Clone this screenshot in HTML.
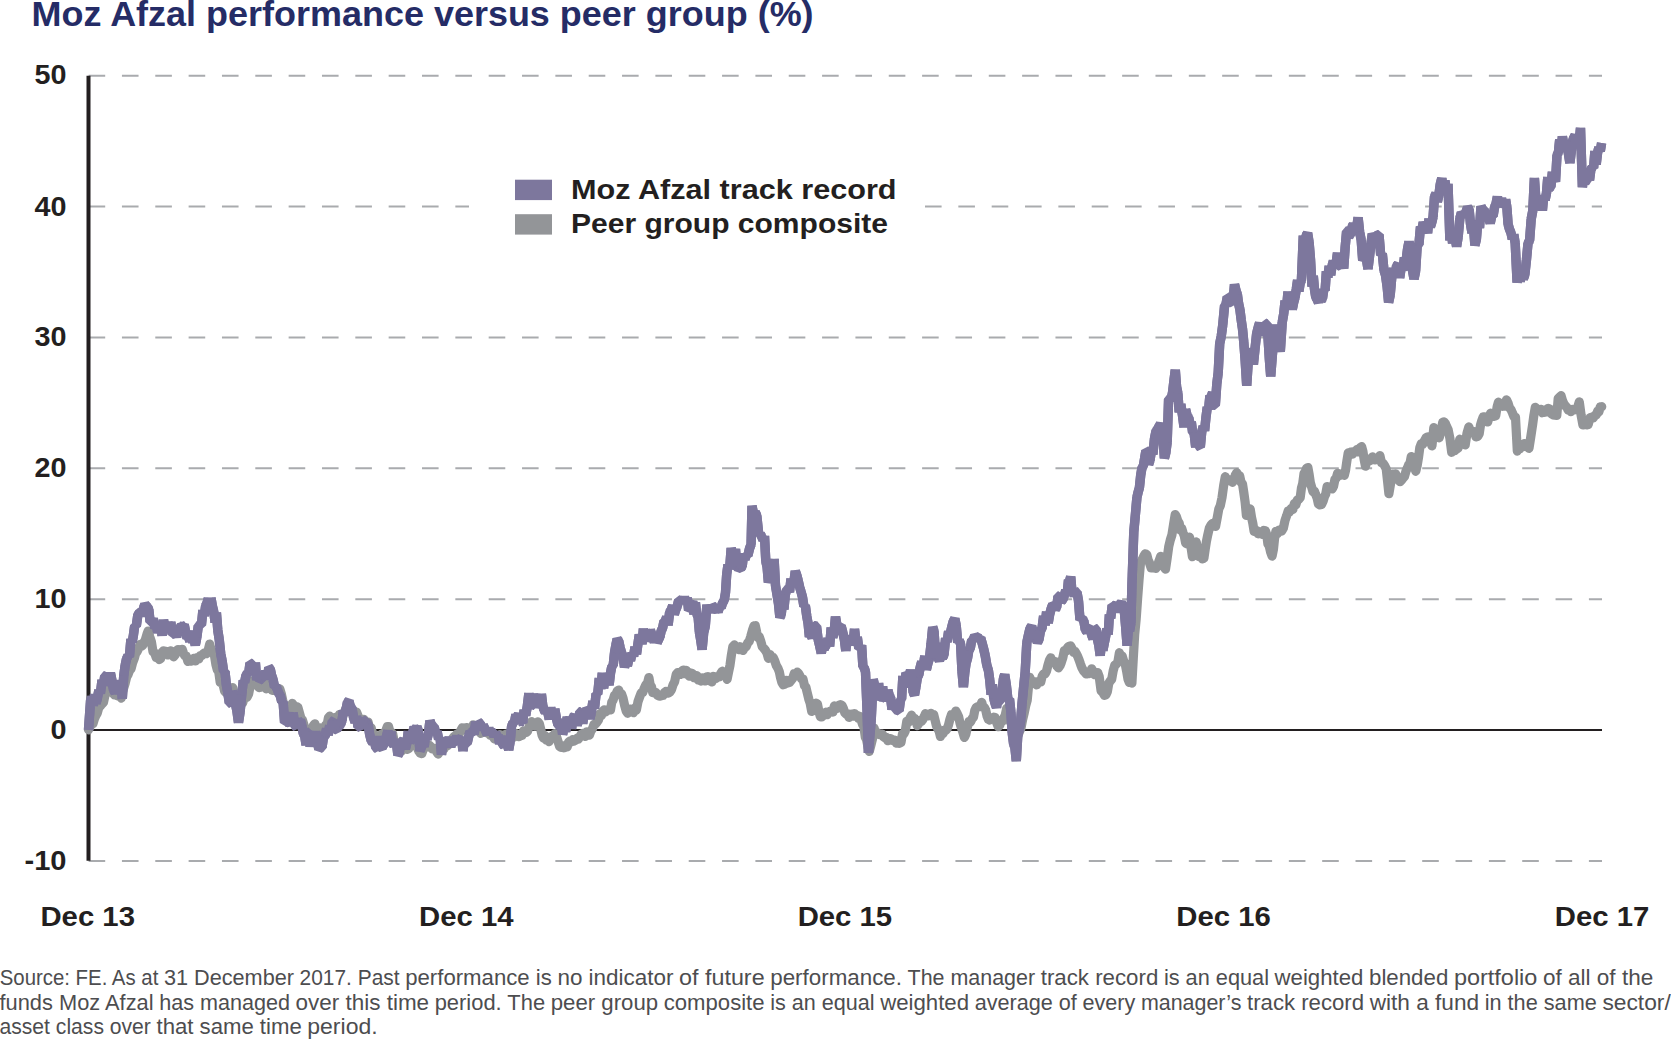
<!DOCTYPE html>
<html lang="en"><head><meta charset="utf-8"><title>Moz Afzal performance versus peer group (%)</title>
<style>html,body{margin:0;padding:0;background:#fff}svg{display:block}text{font-family:"Liberation Sans",sans-serif}.b{font-weight:bold;fill:#231f20;font-size:28px}.c{font-size:28.5px}.t{font-weight:bold;fill:#252c66;font-size:34.5px}.f{fill:#4d4d4f;font-size:21.5px}</style></head><body>
<svg width="1671" height="1041" viewBox="0 0 1671 1041">
<rect width="1671" height="1041" fill="#fff"/>
<text class="t" x="31.6" y="26" textLength="782" lengthAdjust="spacingAndGlyphs">Moz Afzal performance versus peer group (%)</text>
<line x1="88.6" y1="75.8" x2="1602.0" y2="75.8" stroke="#a9abae" stroke-width="2" stroke-dasharray="16.6 16.74"/>
<line x1="88.6" y1="206.6" x2="469.0" y2="206.6" stroke="#a9abae" stroke-width="2" stroke-dasharray="16.6 16.74"/>
<line x1="925.0" y1="206.6" x2="1602.0" y2="206.6" stroke="#a9abae" stroke-width="2" stroke-dasharray="16.6 16.74"/>
<line x1="88.6" y1="337.4" x2="1602.0" y2="337.4" stroke="#a9abae" stroke-width="2" stroke-dasharray="16.6 16.74"/>
<line x1="88.6" y1="468.3" x2="1602.0" y2="468.3" stroke="#a9abae" stroke-width="2" stroke-dasharray="16.6 16.74"/>
<line x1="88.6" y1="599.2" x2="1602.0" y2="599.2" stroke="#a9abae" stroke-width="2" stroke-dasharray="16.6 16.74"/>
<line x1="88.6" y1="861.0" x2="1602.0" y2="861.0" stroke="#a9abae" stroke-width="2" stroke-dasharray="16.6 16.74"/>
<line x1="88.5" y1="730.0" x2="1602.0" y2="730.0" stroke="#231f20" stroke-width="2"/>
<line x1="88.5" y1="75.8" x2="88.5" y2="860.7" stroke="#231f20" stroke-width="4"/>
<path d="M88.5 729.8 L90.0 726.6 L91.4 724.3 L92.9 723.9 L94.4 718.9 L95.8 715.6 L97.3 713.1 L98.8 707.6 L100.4 705.9 L101.9 704.0 L103.5 702.3 L105.0 695.3 L106.3 692.8 L107.5 688.9 L108.8 690.5 L110.2 691.5 L111.7 688.0 L113.1 693.2 L114.6 695.0 L115.9 695.0 L117.3 695.8 L118.6 694.3 L120.0 694.0 L121.3 698.2 L122.6 691.4 L124.0 687.0 L125.3 682.8 L126.7 676.9 L128.0 674.7 L129.5 670.6 L131.1 668.7 L132.6 662.9 L134.2 658.7 L135.7 653.3 L137.1 651.7 L138.6 648.3 L140.1 644.4 L141.5 646.1 L142.8 645.2 L144.2 642.5 L145.5 639.3 L146.9 634.4 L148.2 631.0 L149.8 637.0 L151.4 641.7 L153.0 651.7 L154.6 652.8 L156.2 657.6 L157.8 657.7 L159.2 659.5 L160.7 658.6 L162.1 652.2 L163.5 650.8 L165.0 654.0 L166.4 651.4 L167.8 654.9 L169.3 652.9 L170.8 650.9 L172.2 654.3 L173.7 656.8 L175.1 655.0 L176.6 650.8 L178.0 649.6 L179.4 651.7 L180.9 649.5 L182.2 649.4 L183.4 652.8 L184.7 655.7 L186.3 656.0 L187.9 661.4 L189.5 659.8 L191.0 661.1 L192.6 660.5 L194.1 658.4 L195.7 660.9 L197.2 657.6 L198.7 659.0 L200.3 655.5 L201.8 655.6 L203.4 653.7 L204.9 652.8 L206.5 653.7 L208.1 650.5 L209.7 644.0 L211.3 650.8 L212.9 651.5 L214.5 655.8 L215.9 664.5 L217.3 669.8 L218.8 672.1 L220.2 682.4 L221.6 682.2 L223.1 684.8 L224.6 691.1 L226.0 692.6 L227.3 691.0 L228.7 688.6 L230.0 687.5 L231.4 689.7 L232.7 687.7 L234.1 693.5 L235.6 696.5 L237.1 700.6 L238.5 707.7 L239.9 704.1 L241.4 702.5 L242.8 702.7 L244.2 697.3 L245.7 694.4 L247.1 697.1 L248.6 694.0 L250.0 686.8 L251.4 681.6 L252.9 680.7 L254.4 684.1 L256.0 681.2 L257.5 685.9 L259.1 687.6 L260.6 687.2 L262.0 685.9 L263.5 683.8 L264.9 682.9 L266.3 688.8 L267.8 686.2 L269.2 688.6 L270.7 686.9 L272.2 690.4 L273.7 690.3 L275.3 688.8 L276.8 688.0 L278.3 691.5 L279.8 688.9 L281.4 694.1 L282.9 701.3 L284.4 709.0 L286.0 713.4 L287.6 709.7 L289.1 711.7 L290.7 706.9 L292.3 703.4 L293.7 705.3 L295.1 707.6 L296.6 706.6 L298.0 707.6 L299.4 712.7 L300.9 718.2 L302.4 719.8 L303.8 724.4 L305.2 731.8 L306.7 737.3 L308.1 734.8 L309.4 733.6 L310.8 731.9 L312.2 727.9 L313.6 725.3 L314.9 723.8 L316.3 728.3 L317.6 729.5 L319.0 732.2 L320.3 727.8 L321.7 731.0 L323.0 731.7 L324.3 730.1 L325.7 724.9 L327.0 725.5 L328.4 717.7 L329.7 716.2 L331.1 717.5 L332.4 718.8 L333.8 718.0 L335.2 717.3 L336.6 717.5 L337.9 718.1 L339.3 714.6 L340.8 714.3 L342.4 714.7 L343.9 713.6 L345.5 709.5 L347.0 709.7 L348.4 711.5 L349.7 711.0 L351.1 711.8 L352.5 711.2 L353.9 713.0 L355.2 714.3 L356.6 712.1 L358.0 715.6 L359.5 719.6 L360.9 720.7 L362.4 720.7 L363.8 719.3 L365.2 721.7 L366.7 722.1 L368.1 722.0 L369.6 728.1 L371.2 727.8 L372.7 734.7 L374.3 734.9 L375.8 741.2 L377.4 739.3 L378.9 735.8 L380.4 736.3 L382.0 733.9 L383.3 733.5 L384.6 734.7 L386.0 730.1 L387.3 726.6 L388.6 726.7 L390.0 731.9 L391.3 732.2 L392.7 733.8 L394.0 740.7 L395.4 742.9 L397.0 744.7 L398.6 750.3 L400.2 750.7 L401.6 751.0 L403.1 747.5 L404.5 747.2 L405.9 748.8 L407.4 749.3 L408.8 748.5 L410.2 744.4 L411.6 743.7 L413.1 741.1 L414.5 738.4 L415.9 742.7 L417.4 747.9 L418.9 751.3 L420.3 753.2 L421.8 753.7 L423.4 749.1 L424.9 746.5 L426.5 746.9 L428.0 745.4 L429.4 745.3 L430.9 746.8 L432.3 749.0 L433.8 749.1 L435.2 748.4 L436.6 751.8 L438.1 754.1 L439.5 751.8 L441.0 747.4 L442.6 745.0 L444.1 748.8 L445.7 743.8 L447.2 745.8 L448.6 744.7 L449.9 742.0 L451.3 743.4 L452.7 738.2 L454.1 736.6 L455.4 737.4 L456.8 734.1 L458.2 737.1 L459.5 733.1 L460.9 730.3 L462.3 727.8 L463.7 729.6 L465.0 728.0 L466.4 727.6 L467.8 727.9 L469.1 728.8 L470.5 729.9 L471.8 728.4 L473.2 724.8 L474.8 727.7 L476.4 728.3 L478.0 729.0 L479.4 731.3 L480.7 733.4 L482.1 730.5 L483.5 730.2 L484.9 730.4 L486.2 732.6 L487.6 732.1 L489.0 733.4 L490.3 735.2 L491.7 734.1 L493.1 736.8 L494.5 738.9 L495.8 735.0 L497.2 739.7 L498.6 739.0 L499.9 734.7 L501.3 735.1 L502.7 735.9 L504.1 737.5 L505.4 734.3 L506.8 734.1 L508.3 736.6 L509.9 737.1 L511.4 738.4 L513.0 736.1 L514.5 736.8 L516.0 733.7 L517.5 735.8 L519.1 736.7 L520.6 735.7 L522.1 735.5 L523.5 730.8 L524.8 732.5 L526.2 732.4 L527.6 731.2 L529.0 726.9 L530.3 726.0 L531.7 721.7 L533.2 725.1 L534.8 726.2 L536.3 723.8 L537.9 721.8 L539.4 723.8 L540.7 729.1 L542.0 735.0 L543.3 737.9 L544.7 735.4 L546.1 740.0 L547.6 737.3 L549.0 741.6 L550.5 737.5 L551.9 736.4 L553.3 738.1 L554.8 733.7 L556.4 736.0 L558.0 741.3 L559.6 746.4 L561.1 747.4 L562.6 746.6 L564.1 747.8 L565.7 745.1 L567.2 747.0 L568.7 741.9 L570.2 741.0 L571.6 741.7 L572.9 739.6 L574.3 741.0 L575.7 740.1 L577.1 738.3 L578.4 739.0 L579.8 736.7 L581.2 734.2 L582.5 733.5 L583.9 735.8 L585.3 736.5 L586.7 731.9 L588.0 734.2 L589.4 735.2 L590.9 731.0 L592.5 728.7 L594.0 724.3 L595.6 723.8 L597.1 722.0 L598.5 719.9 L600.0 713.6 L601.4 715.6 L602.8 711.3 L604.3 709.8 L605.9 711.6 L607.4 710.4 L609.0 709.3 L610.5 710.0 L611.8 702.1 L613.2 699.8 L614.5 695.4 L615.9 694.5 L617.2 691.1 L618.7 690.1 L620.1 693.1 L621.5 693.8 L623.0 698.0 L624.6 705.2 L626.2 711.0 L627.8 713.3 L629.2 710.9 L630.7 709.0 L632.1 710.7 L633.5 712.7 L635.0 707.8 L636.4 710.0 L638.0 701.6 L639.6 697.1 L641.2 692.8 L642.7 692.6 L644.3 688.1 L645.8 684.9 L647.4 683.4 L648.9 677.5 L650.2 685.1 L651.5 686.7 L652.8 692.7 L654.3 692.3 L655.8 692.4 L657.4 695.1 L658.9 695.9 L660.4 696.2 L661.8 695.5 L663.1 695.5 L664.5 692.6 L665.9 691.4 L667.3 693.1 L668.6 693.1 L670.0 691.9 L671.5 689.7 L673.1 684.7 L674.6 681.9 L676.2 674.4 L677.7 672.5 L679.1 673.6 L680.6 674.5 L682.0 671.1 L683.4 670.1 L684.8 673.7 L686.3 670.4 L687.7 674.3 L689.2 676.1 L690.8 672.9 L692.3 673.5 L693.9 677.7 L695.4 676.9 L696.8 675.6 L698.1 680.0 L699.5 678.9 L700.9 681.1 L702.3 677.8 L703.6 678.8 L705.0 681.0 L706.4 677.0 L707.7 676.7 L709.1 679.3 L710.5 681.2 L711.9 681.9 L713.2 676.4 L714.6 676.9 L716.1 678.2 L717.7 676.6 L719.2 676.9 L720.8 673.4 L722.3 671.2 L723.9 672.9 L725.5 674.3 L727.1 679.3 L728.5 672.3 L730.0 665.2 L731.4 655.0 L732.8 646.8 L734.4 644.9 L736.0 646.9 L737.6 647.2 L738.9 649.7 L740.2 646.7 L741.5 647.2 L743.0 650.5 L744.6 647.2 L746.1 646.9 L747.7 642.9 L749.2 641.3 L750.8 636.3 L752.4 630.4 L754.0 625.9 L755.3 625.7 L756.7 632.3 L758.0 637.5 L759.4 637.1 L760.7 641.0 L762.2 646.5 L763.8 648.4 L765.3 650.1 L766.9 652.8 L768.4 658.3 L770.0 654.5 L771.6 658.0 L773.2 657.5 L774.8 661.0 L776.4 665.7 L778.0 668.4 L779.3 671.7 L780.5 677.6 L781.8 682.3 L783.3 684.8 L784.9 684.2 L786.4 680.3 L788.0 683.0 L789.5 682.5 L791.1 680.4 L792.6 678.4 L794.2 673.7 L795.7 673.8 L797.3 672.2 L798.7 673.7 L800.1 676.3 L801.6 678.9 L803.0 679.1 L804.5 685.7 L805.9 687.2 L807.3 693.0 L808.8 699.2 L810.2 703.3 L811.7 711.4 L813.2 710.7 L814.6 708.4 L816.0 703.2 L817.5 704.2 L818.9 711.3 L820.3 716.7 L821.7 717.0 L823.0 715.7 L824.4 714.3 L825.8 712.2 L827.2 714.7 L828.5 712.4 L829.9 711.3 L831.4 711.1 L832.9 712.1 L834.4 705.9 L836.0 707.4 L837.5 708.3 L839.0 705.1 L840.5 704.7 L842.0 705.4 L843.4 708.5 L844.8 712.7 L846.3 714.2 L847.7 713.9 L849.0 717.4 L850.4 715.6 L851.8 714.2 L853.2 716.1 L854.5 713.6 L855.9 714.9 L857.2 715.6 L858.6 718.5 L859.9 716.4 L861.3 720.6 L862.6 724.5 L863.9 726.7 L865.3 737.2 L866.6 739.8 L868.0 746.9 L869.3 751.4 L870.9 745.3 L872.5 738.8 L874.1 728.0 L875.5 733.4 L876.8 732.4 L878.2 733.3 L879.6 734.6 L881.0 734.1 L882.3 734.0 L883.7 736.9 L885.1 738.0 L886.4 737.4 L887.8 740.7 L889.2 739.8 L890.6 738.5 L891.9 740.4 L893.3 740.4 L894.8 740.1 L896.4 743.2 L897.9 741.3 L899.5 743.3 L901.0 742.5 L902.5 733.7 L903.9 734.0 L905.3 730.8 L906.8 721.3 L908.4 722.4 L910.0 718.0 L911.6 715.2 L913.0 720.2 L914.5 718.4 L915.9 720.9 L917.3 725.6 L918.7 723.6 L920.0 720.3 L921.4 721.5 L922.7 719.8 L924.1 716.8 L925.5 713.6 L926.8 716.0 L928.2 715.9 L929.6 714.5 L931.0 713.3 L932.3 716.1 L933.7 714.6 L935.0 719.9 L936.4 725.6 L937.7 728.7 L939.1 731.0 L940.4 736.5 L941.7 733.6 L943.1 733.4 L944.4 730.2 L945.8 730.5 L947.1 728.8 L948.5 725.0 L950.0 718.9 L951.5 714.5 L952.9 716.3 L954.3 714.4 L955.8 711.0 L957.2 713.5 L958.7 716.9 L960.1 723.6 L961.5 728.0 L963.0 732.7 L964.4 737.5 L965.9 734.1 L967.5 726.6 L969.0 721.7 L970.6 721.9 L972.1 718.6 L973.5 717.2 L974.8 710.4 L976.2 707.4 L977.6 706.8 L979.0 706.5 L980.3 706.6 L981.7 702.3 L983.0 707.1 L984.4 707.6 L985.7 709.9 L987.1 716.3 L988.4 719.4 L989.7 720.0 L991.1 718.6 L992.4 718.8 L993.8 717.2 L995.1 717.5 L996.7 722.7 L998.3 726.7 L999.9 724.9 L1001.3 720.4 L1002.6 720.9 L1004.0 717.5 L1005.3 715.0 L1006.7 708.3 L1008.0 712.5 L1009.4 715.5 L1010.7 722.5 L1012.0 724.6 L1013.5 730.8 L1015.0 738.3 L1016.5 739.9 L1018.0 735.3 L1019.5 731.6 L1021.0 728.1 L1022.6 719.7 L1024.3 712.7 L1025.9 704.9 L1027.2 700.2 L1028.4 687.5 L1029.7 677.4 L1031.1 680.7 L1032.4 681.5 L1033.8 683.4 L1035.2 681.9 L1036.6 684.9 L1037.9 681.7 L1039.3 682.0 L1040.8 681.9 L1042.2 676.2 L1043.6 673.9 L1045.1 673.8 L1046.5 671.1 L1047.9 665.3 L1049.4 660.3 L1050.8 657.8 L1052.3 662.0 L1053.9 662.0 L1055.4 661.5 L1057.0 666.2 L1058.5 667.8 L1060.0 665.7 L1061.4 662.2 L1062.8 657.9 L1064.3 650.6 L1065.8 651.3 L1067.4 647.8 L1068.9 646.3 L1070.5 645.8 L1072.0 648.5 L1073.4 652.2 L1074.8 651.2 L1076.3 653.7 L1077.7 656.4 L1079.2 660.2 L1080.6 664.3 L1082.0 668.1 L1083.5 670.8 L1084.9 672.3 L1086.2 674.0 L1087.6 672.5 L1089.0 673.7 L1090.4 672.0 L1091.7 668.8 L1093.1 671.2 L1094.6 674.7 L1096.2 673.2 L1097.7 672.5 L1099.2 676.6 L1101.1 691.0 L1102.7 692.1 L1104.3 695.3 L1105.9 694.8 L1107.4 691.5 L1108.8 683.2 L1110.2 681.0 L1111.7 679.2 L1113.2 670.8 L1114.8 665.0 L1116.3 664.2 L1117.9 661.8 L1119.4 652.7 L1120.8 656.7 L1122.2 656.1 L1123.7 661.1 L1125.1 663.3 L1126.5 670.5 L1128.0 679.3 L1129.3 682.4 L1130.6 681.8 L1131.9 683.2 L1133.3 658.2 L1134.7 634.2 L1136.2 618.7 L1137.6 598.7 L1139.0 580.1 L1140.5 562.7 L1142.1 559.9 L1143.7 556.3 L1145.3 553.8 L1146.8 554.7 L1148.2 560.1 L1149.6 563.2 L1151.1 567.8 L1152.7 567.8 L1154.3 568.0 L1155.9 568.4 L1157.5 565.8 L1159.1 560.7 L1160.7 556.3 L1162.3 561.6 L1163.9 566.9 L1165.5 569.2 L1167.1 558.6 L1168.7 546.8 L1170.3 540.0 L1171.9 535.0 L1173.6 524.3 L1175.2 514.5 L1176.5 516.8 L1177.8 520.9 L1179.2 523.2 L1180.5 530.2 L1181.8 528.5 L1183.1 532.8 L1184.3 535.9 L1185.6 543.0 L1186.9 543.8 L1188.2 539.6 L1189.5 537.0 L1191.0 547.1 L1192.4 556.7 L1193.7 555.3 L1194.9 546.7 L1196.2 541.9 L1197.7 549.3 L1199.1 556.7 L1200.7 556.3 L1202.3 558.8 L1203.9 558.3 L1205.2 549.3 L1206.4 541.6 L1207.7 535.2 L1209.3 528.2 L1210.9 525.2 L1212.5 523.5 L1214.0 524.4 L1215.6 526.4 L1217.2 517.8 L1218.8 509.0 L1220.4 505.3 L1222.0 497.6 L1223.7 485.3 L1225.3 476.7 L1226.7 481.0 L1228.2 480.5 L1229.6 479.9 L1231.0 479.8 L1232.5 482.3 L1233.9 480.2 L1235.3 475.2 L1236.8 472.7 L1238.2 475.1 L1239.7 475.9 L1241.1 482.4 L1242.5 483.9 L1243.8 492.5 L1245.1 501.8 L1246.4 515.5 L1247.7 512.3 L1248.9 511.8 L1250.2 508.9 L1251.5 517.3 L1252.8 523.2 L1254.1 531.3 L1255.5 531.4 L1256.8 530.7 L1258.2 533.8 L1259.6 532.1 L1261.0 532.3 L1262.5 534.5 L1264.0 530.4 L1265.4 530.7 L1266.7 534.5 L1267.9 543.8 L1269.2 546.0 L1270.7 552.4 L1272.1 556.1 L1273.4 549.7 L1274.6 538.3 L1275.9 531.4 L1277.4 533.7 L1278.8 530.1 L1280.2 531.2 L1281.7 531.1 L1283.4 528.0 L1285.0 520.5 L1286.7 515.6 L1288.2 510.9 L1289.8 511.5 L1291.3 508.3 L1292.9 509.4 L1294.4 503.4 L1295.9 504.8 L1297.3 500.0 L1298.8 499.3 L1300.2 497.6 L1301.5 487.7 L1302.7 483.6 L1304.0 473.7 L1305.3 471.5 L1306.6 468.2 L1307.9 467.5 L1309.2 474.9 L1310.4 482.9 L1311.7 487.3 L1313.0 491.6 L1314.4 491.1 L1315.7 494.6 L1317.1 498.0 L1318.4 504.0 L1320.0 504.9 L1321.6 504.5 L1323.2 500.8 L1324.5 496.6 L1325.8 493.9 L1327.1 486.5 L1328.4 488.5 L1329.6 488.9 L1330.9 486.6 L1332.2 488.9 L1333.6 486.2 L1334.9 479.5 L1336.3 478.0 L1337.6 473.3 L1338.9 473.7 L1340.3 475.2 L1341.6 474.3 L1343.0 474.6 L1344.3 475.3 L1345.6 470.1 L1346.9 460.9 L1348.2 452.9 L1349.6 454.8 L1351.1 452.0 L1352.5 454.1 L1353.9 451.6 L1355.4 452.0 L1357.0 449.5 L1358.5 451.8 L1360.1 447.7 L1361.6 446.6 L1362.9 451.2 L1364.2 459.9 L1365.5 466.2 L1366.9 461.4 L1368.3 460.0 L1369.8 460.9 L1371.2 458.3 L1372.5 456.9 L1373.8 458.6 L1375.1 460.0 L1376.7 458.3 L1378.3 458.6 L1379.9 455.6 L1381.5 462.8 L1383.1 463.4 L1384.6 465.6 L1386.2 468.8 L1387.6 481.4 L1388.9 493.7 L1390.7 483.1 L1392.5 474.0 L1394.0 475.3 L1395.6 473.9 L1397.2 476.8 L1398.7 480.3 L1400.1 481.7 L1401.6 480.1 L1403.0 478.1 L1404.5 476.4 L1405.9 471.4 L1407.2 468.4 L1408.6 464.9 L1410.0 463.1 L1411.3 456.5 L1412.8 460.9 L1414.3 465.6 L1415.8 471.3 L1417.2 465.4 L1418.5 457.6 L1419.8 447.6 L1421.2 443.8 L1422.8 444.1 L1424.3 441.1 L1425.9 438.0 L1427.5 437.0 L1429.0 436.7 L1430.5 441.5 L1432.0 445.9 L1433.8 427.6 L1435.2 430.4 L1436.5 433.6 L1437.8 432.1 L1439.2 437.9 L1441.0 431.1 L1442.7 422.4 L1444.0 421.9 L1445.4 423.5 L1446.8 426.9 L1448.1 429.5 L1449.9 438.3 L1451.7 452.3 L1453.2 450.3 L1454.7 450.7 L1456.2 449.2 L1458.0 448.4 L1459.8 439.2 L1461.2 443.8 L1462.5 443.5 L1463.8 444.1 L1465.2 445.0 L1467.0 433.2 L1468.8 426.9 L1470.2 430.7 L1471.5 432.3 L1472.8 433.0 L1474.2 431.7 L1476.0 436.9 L1477.8 436.3 L1479.2 433.8 L1480.5 425.0 L1481.8 420.6 L1483.2 416.9 L1484.7 416.8 L1486.2 421.3 L1487.7 422.0 L1489.2 416.7 L1490.6 413.2 L1492.1 414.2 L1493.9 416.4 L1495.7 415.9 L1497.1 407.0 L1498.4 402.2 L1499.9 404.6 L1501.4 404.1 L1502.9 406.3 L1504.7 406.1 L1506.5 399.8 L1508.0 402.9 L1509.5 407.8 L1511.0 409.6 L1512.5 413.0 L1514.0 416.9 L1515.5 417.2 L1517.3 451.1 L1518.7 448.6 L1520.0 448.8 L1521.3 446.5 L1522.7 446.8 L1524.3 443.5 L1525.8 446.5 L1527.4 444.0 L1529.0 448.4 L1530.8 436.8 L1532.6 424.9 L1533.9 415.2 L1535.3 407.3 L1536.7 408.6 L1538.1 409.8 L1539.6 410.5 L1541.0 409.4 L1542.4 412.7 L1543.8 412.3 L1545.3 412.2 L1546.7 409.2 L1548.2 408.4 L1549.6 408.8 L1551.4 413.8 L1553.2 414.9 L1555.0 415.2 L1556.8 415.4 L1558.2 398.4 L1559.7 396.9 L1561.1 395.7 L1562.5 400.5 L1564.0 404.0 L1565.3 405.8 L1566.7 407.1 L1568.1 410.0 L1569.4 409.7 L1570.9 411.6 L1572.4 409.5 L1573.9 409.9 L1575.2 409.7 L1576.6 408.6 L1578.0 406.2 L1579.3 401.9 L1581.1 415.1 L1582.9 425.0 L1584.2 423.6 L1585.6 423.9 L1586.9 424.9 L1588.2 424.5 L1590.0 417.8 L1591.8 417.3 L1593.3 417.9 L1594.8 415.4 L1596.3 415.0 L1597.7 411.1 L1599.0 411.4 L1600.3 406.9 L1601.7 406.7" fill="none" stroke="#939598" stroke-width="9.2" stroke-linejoin="round" stroke-linecap="round"/>
<path d="M88.5 729.8 L90.6 700.2 L91.9 697.7 L93.3 705.6 L94.6 694.4 L96.0 703.4 L97.3 698.5 L98.9 690.1 L100.4 693.5 L102.0 680.1 L103.4 685.7 L104.7 676.1 L106.1 675.6 L107.4 678.1 L108.8 681.2 L110.4 672.9 L112.0 680.8 L113.6 690.2 L115.2 692.8 L116.8 684.9 L118.4 682.1 L119.7 694.1 L121.0 680.2 L122.3 698.8 L123.7 676.1 L125.1 665.7 L126.5 659.0 L128.0 655.8 L129.4 656.9 L130.9 639.2 L132.2 642.0 L133.4 635.4 L134.7 625.7 L136.3 626.0 L137.9 614.5 L139.5 612.9 L140.9 612.0 L142.2 616.2 L143.6 607.9 L144.9 604.3 L146.3 605.9 L147.6 607.1 L148.8 609.4 L150.1 621.7 L151.7 621.8 L153.3 618.5 L154.9 628.2 L156.3 626.3 L157.8 632.5 L159.2 629.2 L160.7 623.2 L162.1 635.6 L163.5 619.9 L165.0 628.0 L166.4 632.0 L167.8 622.2 L169.3 630.1 L170.8 622.0 L172.2 634.1 L173.7 633.8 L175.1 631.4 L176.6 637.2 L178.0 627.8 L179.9 628.1 L181.3 625.4 L182.8 626.3 L184.2 624.7 L185.6 631.6 L187.1 638.2 L188.5 637.0 L189.9 641.3 L191.2 630.7 L192.6 642.7 L193.9 639.2 L195.3 645.1 L196.8 637.3 L198.3 625.8 L199.9 625.1 L201.4 625.1 L202.9 610.3 L204.3 615.9 L205.6 606.1 L207.0 603.1 L208.3 598.6 L209.7 606.5 L211.0 598.1 L212.4 606.2 L213.7 611.4 L215.1 622.5 L216.4 612.5 L217.8 630.2 L219.2 639.2 L220.7 653.6 L222.1 660.6 L223.6 671.4 L225.0 671.6 L226.4 685.2 L227.9 693.2 L229.3 702.7 L230.8 703.1 L232.2 691.5 L233.7 695.4 L235.3 703.3 L236.9 710.9 L238.5 722.6 L240.1 711.9 L241.7 695.1 L243.3 680.6 L244.6 682.5 L246.0 675.1 L247.3 673.5 L248.7 673.6 L250.0 663.2 L251.3 663.6 L252.7 667.7 L254.0 670.4 L255.4 662.6 L256.7 680.0 L258.2 676.2 L259.8 679.8 L261.3 679.3 L262.9 674.4 L264.4 676.9 L265.8 671.0 L267.3 679.4 L268.8 667.6 L270.2 668.8 L271.6 675.4 L273.0 679.1 L274.5 686.9 L275.9 686.6 L277.3 689.2 L278.8 693.9 L280.2 695.1 L281.7 701.8 L283.1 701.9 L284.6 722.7 L286.1 722.0 L287.5 722.3 L288.9 722.7 L290.4 721.3 L291.8 718.9 L293.2 712.7 L294.6 725.8 L296.1 726.6 L297.6 719.3 L299.0 722.2 L300.4 719.9 L301.9 725.8 L303.3 733.6 L304.7 736.0 L306.1 745.0 L307.4 732.4 L308.8 732.4 L310.2 746.6 L311.6 736.8 L312.9 732.5 L314.3 739.2 L315.8 731.3 L317.4 742.6 L318.9 749.2 L320.5 747.9 L322.0 747.4 L323.5 737.2 L325.1 736.3 L326.6 728.7 L328.2 735.1 L329.7 725.5 L331.1 729.9 L332.4 721.3 L333.8 720.7 L335.2 729.4 L336.6 729.7 L337.9 726.9 L339.3 726.1 L340.7 724.1 L342.0 720.6 L343.4 710.7 L344.8 714.6 L346.2 708.7 L347.5 702.1 L348.9 700.8 L350.4 706.8 L352.0 708.1 L353.5 717.4 L355.1 722.4 L356.6 716.2 L358.0 726.8 L359.5 726.9 L360.9 727.8 L362.4 719.8 L363.8 720.6 L365.2 722.0 L366.7 722.7 L368.1 724.1 L369.6 734.1 L371.2 740.6 L372.7 742.5 L374.3 740.6 L375.8 747.8 L377.3 748.6 L378.9 736.3 L380.4 746.9 L382.0 747.8 L383.5 744.7 L384.9 742.7 L386.4 736.6 L387.9 730.8 L389.3 739.2 L390.9 731.9 L392.4 743.0 L394.0 745.7 L395.3 739.4 L396.6 744.2 L397.9 755.3 L399.2 753.1 L400.7 743.1 L402.3 741.6 L403.8 739.5 L405.4 749.0 L406.9 742.8 L408.3 731.3 L409.8 741.9 L411.2 739.9 L412.6 732.9 L414.1 727.2 L415.5 729.2 L416.9 726.7 L418.4 731.1 L419.9 751.0 L421.3 747.7 L422.7 743.9 L424.2 746.8 L425.6 734.2 L427.0 739.3 L428.5 733.4 L429.9 720.7 L431.3 724.6 L432.8 726.2 L434.2 726.7 L435.7 733.8 L437.1 731.4 L438.6 739.0 L440.1 737.6 L441.5 754.7 L443.0 741.8 L444.6 744.1 L446.1 743.8 L447.7 747.0 L449.2 736.9 L450.7 747.2 L452.2 739.6 L453.8 742.5 L455.3 742.7 L456.8 735.7 L458.3 744.3 L459.9 739.0 L461.4 737.7 L463.0 750.9 L464.5 738.9 L465.8 743.4 L467.2 743.2 L468.5 737.3 L469.9 731.6 L471.2 732.5 L472.7 731.4 L474.2 734.1 L475.7 721.8 L477.3 730.2 L478.8 722.5 L480.3 723.3 L481.8 729.8 L483.2 725.1 L484.5 728.0 L485.9 731.7 L487.3 734.5 L488.7 727.8 L490.0 732.9 L491.4 731.4 L492.8 732.8 L494.1 736.3 L495.5 732.8 L496.9 735.8 L498.3 735.3 L499.6 743.7 L501.0 739.2 L502.5 744.2 L504.1 745.6 L505.6 736.0 L507.2 744.1 L508.7 749.9 L510.1 742.0 L511.6 726.2 L513.0 722.8 L514.5 722.1 L515.9 714.6 L517.2 717.7 L518.6 713.5 L520.0 722.7 L521.4 721.7 L522.7 722.7 L524.1 709.9 L525.7 715.3 L527.3 706.4 L528.9 693.2 L530.3 706.4 L531.7 705.2 L533.1 693.8 L534.5 707.7 L535.8 696.4 L537.2 700.1 L538.6 707.4 L540.0 703.6 L541.4 694.0 L542.7 705.0 L543.9 709.9 L545.2 711.9 L546.6 710.5 L547.9 713.0 L549.3 719.2 L550.7 707.3 L552.1 718.4 L553.4 714.7 L554.8 709.1 L556.4 718.4 L558.0 725.0 L559.6 725.8 L561.1 718.9 L562.6 734.4 L564.1 727.9 L565.7 731.8 L567.2 717.1 L568.7 722.2 L570.2 717.3 L571.6 728.7 L572.9 717.2 L574.3 715.9 L575.7 719.5 L577.1 725.1 L578.4 721.2 L579.8 711.9 L581.2 711.6 L582.7 723.4 L584.1 715.3 L585.5 718.7 L587.0 708.1 L588.4 709.5 L589.9 718.8 L591.3 712.5 L592.9 701.1 L594.5 708.5 L596.1 693.8 L597.7 694.1 L599.3 678.2 L600.9 688.9 L602.3 673.0 L603.6 688.0 L605.0 678.0 L606.4 677.5 L607.8 680.3 L609.1 685.0 L610.5 673.1 L611.8 666.3 L613.2 665.5 L614.5 652.9 L615.9 645.1 L617.2 639.1 L618.7 641.0 L620.1 647.6 L621.5 652.6 L623.0 656.1 L624.5 667.2 L625.9 662.2 L627.4 665.7 L629.0 658.1 L630.5 660.5 L632.1 653.0 L633.6 656.3 L635.0 646.9 L636.5 654.2 L637.9 644.1 L639.3 634.7 L640.7 639.0 L642.0 644.0 L643.4 628.7 L644.8 641.7 L646.2 631.7 L647.5 633.4 L648.9 637.1 L650.3 630.0 L651.6 634.2 L653.0 637.2 L654.4 642.2 L655.8 632.1 L657.1 642.8 L658.5 639.6 L659.9 636.9 L661.2 630.8 L662.6 628.2 L664.0 621.1 L665.4 620.8 L666.7 616.9 L668.1 625.2 L669.6 612.4 L671.2 609.9 L672.7 605.5 L674.3 614.5 L675.8 609.5 L677.2 606.3 L678.7 600.3 L680.1 600.4 L681.5 600.6 L683.0 602.6 L684.4 597.0 L685.9 602.1 L687.3 597.6 L688.6 610.4 L690.0 609.1 L691.3 603.9 L692.7 601.3 L694.0 614.3 L695.4 602.6 L696.7 614.3 L698.1 616.5 L699.4 632.2 L700.8 640.6 L702.1 649.5 L703.7 632.5 L705.3 626.1 L706.9 604.9 L708.3 610.8 L709.6 606.9 L711.0 612.5 L712.4 605.8 L713.8 606.8 L715.1 611.0 L716.5 609.1 L718.0 611.9 L719.6 606.8 L721.1 607.6 L722.7 602.3 L724.2 600.6 L725.5 592.7 L726.7 574.3 L728.0 564.6 L729.6 569.1 L731.2 548.2 L732.8 554.4 L734.1 554.2 L735.5 549.0 L736.8 566.6 L738.2 568.1 L739.5 567.8 L740.9 568.0 L742.2 566.4 L743.6 553.4 L744.9 559.3 L746.3 555.0 L747.9 555.5 L749.5 548.7 L751.1 544.3 L752.0 505.8 L753.6 514.0 L755.2 512.1 L756.8 515.7 L758.8 535.1 L760.2 534.0 L761.6 536.4 L763.1 540.1 L764.5 536.0 L765.8 561.2 L767.1 567.1 L768.4 582.4 L769.8 578.5 L771.2 576.1 L772.7 569.5 L774.1 559.1 L775.5 585.5 L777.0 594.5 L778.5 603.8 L779.9 617.4 L781.2 614.9 L782.6 601.0 L783.9 609.2 L785.3 594.9 L786.6 589.9 L788.0 589.2 L789.5 592.0 L791.0 578.7 L792.4 585.1 L793.8 582.9 L795.3 571.2 L796.7 574.9 L798.1 580.3 L799.6 587.0 L801.0 591.6 L802.5 597.3 L803.9 606.3 L805.3 605.4 L806.8 616.5 L808.1 623.5 L809.4 636.9 L810.7 634.5 L812.2 637.9 L813.6 625.6 L815.0 625.9 L816.5 626.2 L818.1 639.4 L819.7 646.0 L821.3 653.3 L822.6 645.9 L824.0 649.3 L825.3 646.2 L826.7 645.2 L828.0 638.3 L829.6 646.4 L831.2 627.7 L832.8 637.5 L834.1 632.1 L835.5 616.7 L836.8 624.6 L838.2 626.6 L839.5 626.4 L841.1 625.8 L842.8 632.5 L844.4 639.6 L845.8 650.8 L847.2 636.4 L848.7 644.5 L850.1 635.4 L851.5 641.3 L853.0 644.7 L854.5 629.0 L855.9 640.7 L857.3 637.0 L858.8 648.4 L860.2 647.9 L861.6 645.3 L862.9 666.8 L864.2 667.7 L865.5 671.9 L867.0 709.0 L868.4 752.8 L869.8 736.3 L871.2 720.0 L873.2 679.4 L874.5 685.0 L875.9 685.7 L877.2 696.1 L878.6 683.2 L879.9 699.8 L881.2 697.9 L882.6 686.5 L883.9 701.0 L885.3 694.3 L886.6 698.1 L887.9 690.0 L889.3 695.7 L890.6 697.6 L892.0 709.5 L893.3 703.5 L894.8 704.9 L896.2 709.7 L897.6 710.4 L899.1 710.8 L900.4 700.1 L901.6 699.1 L902.9 676.1 L904.4 687.3 L906.0 672.9 L907.5 674.6 L909.1 676.7 L910.6 669.9 L911.9 679.0 L913.2 692.5 L914.5 694.9 L915.9 687.1 L917.4 677.2 L918.8 674.9 L920.2 667.2 L921.7 661.9 L923.3 666.5 L924.8 656.0 L926.4 669.7 L927.9 663.5 L929.5 658.1 L931.1 643.6 L932.7 627.1 L934.0 630.9 L935.4 651.7 L936.7 642.9 L938.1 657.9 L939.4 660.7 L940.9 655.8 L942.5 657.7 L944.0 655.0 L945.6 638.3 L947.1 641.9 L948.6 631.5 L950.2 633.9 L951.7 627.2 L953.3 621.3 L954.8 618.7 L956.2 625.5 L957.7 642.6 L959.1 640.3 L960.6 643.9 L962.0 671.5 L963.4 687.0 L964.8 672.5 L966.1 663.1 L967.5 658.4 L968.8 650.4 L970.2 648.6 L971.7 640.1 L973.2 639.8 L974.8 635.8 L976.3 637.1 L977.8 637.4 L979.2 638.5 L980.7 637.9 L982.1 643.0 L983.6 648.6 L985.2 655.6 L986.8 665.1 L988.4 670.4 L989.7 679.6 L991.1 694.6 L992.4 684.4 L993.8 698.3 L995.1 703.5 L996.5 707.6 L998.0 697.2 L999.5 700.7 L1000.9 700.3 L1002.2 690.7 L1003.4 678.7 L1004.7 674.5 L1006.3 684.7 L1007.9 699.2 L1009.5 699.1 L1010.9 712.3 L1012.2 732.7 L1013.6 744.0 L1014.9 747.6 L1016.3 761.1 L1017.7 736.4 L1019.1 729.6 L1020.6 721.5 L1022.0 703.7 L1023.6 687.4 L1025.2 671.7 L1026.8 642.8 L1028.4 635.3 L1030.0 628.3 L1031.6 626.2 L1033.0 631.4 L1034.5 639.0 L1036.0 638.7 L1037.4 642.2 L1038.9 639.9 L1040.5 630.4 L1042.0 628.7 L1043.6 616.0 L1045.1 625.1 L1046.6 611.9 L1048.2 623.0 L1049.7 614.2 L1051.3 608.3 L1052.8 604.4 L1054.1 605.1 L1055.4 609.0 L1056.7 607.2 L1058.0 596.4 L1059.6 596.1 L1061.2 601.5 L1062.9 599.5 L1064.5 595.0 L1065.8 590.1 L1067.2 593.4 L1068.5 579.9 L1069.6 581.0 L1070.7 576.7 L1071.8 589.8 L1073.0 588.8 L1074.3 596.5 L1075.7 591.8 L1077.0 592.2 L1078.5 600.8 L1080.0 619.9 L1081.3 618.8 L1082.5 619.1 L1083.8 620.8 L1085.3 629.7 L1086.9 631.6 L1088.4 628.1 L1090.0 627.2 L1091.5 634.7 L1093.1 638.7 L1094.7 628.5 L1096.3 629.1 L1097.6 639.7 L1098.9 645.8 L1100.2 655.6 L1101.5 643.3 L1102.9 650.5 L1104.2 643.6 L1105.6 636.7 L1106.9 628.8 L1108.2 634.5 L1109.4 614.6 L1110.7 618.1 L1112.2 605.3 L1113.8 605.8 L1115.3 612.3 L1116.9 601.9 L1118.4 612.4 L1119.9 604.3 L1121.3 602.8 L1122.8 605.4 L1124.2 609.7 L1125.7 627.4 L1127.1 645.6 L1128.4 628.4 L1129.6 631.1 L1130.9 623.2 L1131.9 585.9 L1133.8 531.9 L1135.3 515.7 L1136.9 497.5 L1138.2 491.9 L1139.4 487.8 L1140.7 475.3 L1142.0 467.5 L1143.3 466.3 L1144.6 458.6 L1145.9 450.7 L1147.3 451.4 L1148.6 464.4 L1150.0 460.3 L1151.3 451.3 L1152.9 454.3 L1154.5 438.4 L1156.1 430.8 L1157.5 429.4 L1159.0 426.5 L1160.5 423.9 L1161.9 428.2 L1163.2 438.6 L1164.4 458.3 L1165.7 453.6 L1167.2 441.9 L1168.6 399.0 L1169.9 398.6 L1171.3 399.0 L1172.6 392.0 L1174.0 380.4 L1175.3 369.8 L1176.6 387.0 L1177.9 393.5 L1179.2 412.3 L1180.8 404.2 L1182.4 414.7 L1184.0 427.1 L1185.6 409.5 L1187.2 415.9 L1188.8 417.8 L1190.1 424.5 L1191.3 421.8 L1192.6 432.3 L1194.1 433.0 L1195.7 447.2 L1197.2 434.9 L1198.8 446.0 L1200.3 447.1 L1201.7 432.0 L1203.2 426.4 L1204.6 430.8 L1206.0 417.1 L1207.3 407.2 L1208.6 409.4 L1209.9 395.8 L1211.2 396.8 L1212.6 392.5 L1214.0 405.3 L1215.3 405.4 L1216.8 384.0 L1218.2 372.7 L1219.7 343.6 L1221.2 336.5 L1222.7 325.4 L1224.6 305.5 L1225.9 304.8 L1227.3 297.0 L1228.6 297.4 L1230.0 301.0 L1231.3 302.2 L1232.9 303.1 L1234.5 284.4 L1236.1 290.9 L1237.4 294.5 L1238.6 303.5 L1239.9 309.4 L1241.2 319.8 L1242.5 328.8 L1243.8 342.3 L1245.2 361.0 L1246.7 385.8 L1248.3 361.3 L1249.9 353.4 L1251.5 349.1 L1253.4 364.5 L1255.0 348.9 L1256.6 333.9 L1258.2 327.4 L1259.6 322.8 L1261.1 334.7 L1262.5 331.6 L1263.9 334.6 L1265.4 323.4 L1266.8 323.6 L1268.1 338.6 L1269.4 359.6 L1270.7 376.4 L1272.3 355.9 L1273.9 337.4 L1275.5 324.8 L1277.1 335.0 L1278.7 343.0 L1280.3 351.7 L1282.2 322.4 L1283.7 313.9 L1285.1 300.7 L1286.5 308.3 L1288.0 291.8 L1289.4 301.3 L1290.8 299.8 L1292.3 309.3 L1293.7 302.4 L1295.0 297.5 L1296.3 289.2 L1297.6 280.1 L1298.9 291.2 L1300.1 283.5 L1301.4 280.3 L1303.3 235.8 L1304.8 244.8 L1306.2 235.4 L1307.6 233.0 L1309.1 242.5 L1310.5 259.3 L1312.0 286.6 L1313.3 275.9 L1314.5 289.3 L1315.8 297.4 L1317.1 299.3 L1318.5 302.8 L1319.8 291.2 L1321.2 300.2 L1322.5 298.4 L1323.8 289.5 L1325.1 290.5 L1326.4 271.2 L1327.8 277.3 L1329.2 266.2 L1330.7 275.0 L1332.1 265.5 L1333.4 261.1 L1334.7 266.2 L1336.0 264.0 L1337.5 252.9 L1339.1 265.6 L1340.6 266.2 L1342.2 262.5 L1343.7 268.4 L1345.2 246.9 L1346.6 231.4 L1347.9 231.1 L1349.3 235.6 L1350.6 234.6 L1352.0 226.8 L1353.3 224.4 L1354.9 227.0 L1356.5 228.8 L1358.1 217.4 L1359.6 231.8 L1361.2 240.1 L1362.7 260.5 L1364.0 258.3 L1365.3 255.5 L1366.7 261.1 L1368.0 268.9 L1369.5 256.5 L1371.0 243.5 L1372.3 233.9 L1373.7 236.1 L1375.0 243.1 L1376.3 236.3 L1377.7 234.8 L1379.0 234.6 L1380.7 255.1 L1382.3 253.5 L1384.0 270.4 L1385.5 275.2 L1387.1 286.4 L1388.6 302.4 L1390.2 295.1 L1391.8 277.0 L1393.4 268.4 L1395.0 276.3 L1396.6 265.8 L1398.1 264.1 L1399.7 277.7 L1401.3 266.8 L1402.8 270.5 L1404.4 257.7 L1405.9 262.2 L1407.5 249.2 L1409.0 241.6 L1410.7 250.1 L1412.3 269.1 L1414.0 279.0 L1415.6 271.3 L1417.2 245.6 L1418.9 244.7 L1420.5 226.6 L1421.9 229.4 L1423.3 222.5 L1424.7 225.4 L1426.2 227.9 L1427.6 233.1 L1429.0 218.6 L1430.4 226.8 L1431.8 222.4 L1433.1 216.7 L1434.5 196.6 L1436.0 193.6 L1437.4 201.8 L1438.8 195.5 L1440.3 183.9 L1441.8 178.2 L1443.4 192.6 L1444.9 180.8 L1446.5 190.8 L1448.0 183.9 L1449.9 240.3 L1451.2 230.1 L1452.6 243.3 L1453.9 233.2 L1455.3 239.5 L1456.6 246.5 L1458.2 236.7 L1459.8 218.6 L1461.4 212.7 L1462.9 214.3 L1464.5 214.9 L1466.0 211.8 L1467.6 207.4 L1469.1 209.3 L1470.5 224.0 L1472.0 233.0 L1473.5 226.9 L1474.9 245.5 L1476.4 239.1 L1477.9 220.4 L1479.5 227.9 L1481.0 206.3 L1482.5 209.4 L1484.0 209.7 L1485.6 214.5 L1487.1 212.2 L1488.7 218.2 L1490.2 223.2 L1491.7 216.0 L1493.1 215.9 L1494.5 207.4 L1496.0 203.8 L1497.4 196.6 L1498.7 206.7 L1500.1 202.0 L1501.5 198.3 L1502.9 206.7 L1504.2 204.6 L1505.6 199.4 L1506.9 207.5 L1508.1 224.3 L1509.4 229.0 L1510.9 232.6 L1512.3 238.9 L1513.8 234.6 L1515.2 243.3 L1517.1 282.4 L1518.6 273.0 L1520.2 281.6 L1521.7 268.7 L1523.3 278.9 L1524.8 275.0 L1526.4 260.3 L1528.0 243.1 L1529.6 240.5 L1531.2 219.0 L1532.8 210.7 L1534.4 178.1 L1535.7 196.6 L1537.1 200.1 L1538.4 200.3 L1539.8 206.6 L1541.1 200.7 L1542.4 210.5 L1543.8 195.3 L1545.1 200.1 L1546.5 193.0 L1547.8 177.1 L1549.3 188.0 L1550.9 186.7 L1552.4 172.0 L1554.0 178.0 L1555.5 181.8 L1557.0 155.1 L1558.4 152.5 L1559.7 139.4 L1561.1 149.8 L1562.4 136.5 L1563.8 144.1 L1565.1 148.4 L1566.7 143.0 L1568.3 153.0 L1569.9 162.9 L1571.2 152.3 L1572.5 141.5 L1573.8 137.5 L1575.1 135.2 L1576.5 146.2 L1577.8 138.3 L1579.2 141.7 L1580.5 128.0 L1582.4 187.2 L1583.9 173.3 L1585.3 181.5 L1586.8 180.3 L1588.2 175.1 L1589.5 180.1 L1590.9 169.5 L1592.2 167.4 L1593.6 168.0 L1594.9 151.1 L1596.2 164.5 L1597.6 152.5 L1598.9 147.5 L1600.3 151.2 L1601.6 143.1" fill="none" stroke="#7d779d" stroke-width="9.4" stroke-linejoin="bevel" stroke-linecap="butt"/>
<path d="M88.5 729.8 L90.6 700.2 M90.6 700.2 L91.9 697.7 M91.9 697.7 L93.3 705.6 M93.3 705.6 L94.6 694.4 M94.6 694.4 L96.0 703.4 M96.0 703.4 L97.3 698.5 M97.3 698.5 L98.9 690.1 M98.9 690.1 L100.4 693.5 M100.4 693.5 L102.0 680.1 M102.0 680.1 L103.4 685.7 M103.4 685.7 L104.7 676.1 M104.7 676.1 L106.1 675.6 M106.1 675.6 L107.4 678.1 M107.4 678.1 L108.8 681.2 M108.8 681.2 L110.4 672.9 M110.4 672.9 L112.0 680.8 M112.0 680.8 L113.6 690.2 M113.6 690.2 L115.2 692.8 M115.2 692.8 L116.8 684.9 M116.8 684.9 L118.4 682.1 M118.4 682.1 L119.7 694.1 M119.7 694.1 L121.0 680.2 M121.0 680.2 L122.3 698.8 M122.3 698.8 L123.7 676.1 M123.7 676.1 L125.1 665.7 M125.1 665.7 L126.5 659.0 M126.5 659.0 L128.0 655.8 M128.0 655.8 L129.4 656.9 M129.4 656.9 L130.9 639.2 M130.9 639.2 L132.2 642.0 M132.2 642.0 L133.4 635.4 M133.4 635.4 L134.7 625.7 M134.7 625.7 L136.3 626.0 M136.3 626.0 L137.9 614.5 M137.9 614.5 L139.5 612.9 M139.5 612.9 L140.9 612.0 M140.9 612.0 L142.2 616.2 M142.2 616.2 L143.6 607.9 M143.6 607.9 L144.9 604.3 M144.9 604.3 L146.3 605.9 M146.3 605.9 L147.6 607.1 M147.6 607.1 L148.8 609.4 M148.8 609.4 L150.1 621.7 M150.1 621.7 L151.7 621.8 M151.7 621.8 L153.3 618.5 M153.3 618.5 L154.9 628.2 M154.9 628.2 L156.3 626.3 M156.3 626.3 L157.8 632.5 M157.8 632.5 L159.2 629.2 M159.2 629.2 L160.7 623.2 M160.7 623.2 L162.1 635.6 M162.1 635.6 L163.5 619.9 M163.5 619.9 L165.0 628.0 M165.0 628.0 L166.4 632.0 M166.4 632.0 L167.8 622.2 M167.8 622.2 L169.3 630.1 M169.3 630.1 L170.8 622.0 M170.8 622.0 L172.2 634.1 M172.2 634.1 L173.7 633.8 M173.7 633.8 L175.1 631.4 M175.1 631.4 L176.6 637.2 M176.6 637.2 L178.0 627.8 M178.0 627.8 L179.9 628.1 M179.9 628.1 L181.3 625.4 M181.3 625.4 L182.8 626.3 M182.8 626.3 L184.2 624.7 M184.2 624.7 L185.6 631.6 M185.6 631.6 L187.1 638.2 M187.1 638.2 L188.5 637.0 M188.5 637.0 L189.9 641.3 M189.9 641.3 L191.2 630.7 M191.2 630.7 L192.6 642.7 M192.6 642.7 L193.9 639.2 M193.9 639.2 L195.3 645.1 M195.3 645.1 L196.8 637.3 M196.8 637.3 L198.3 625.8 M198.3 625.8 L199.9 625.1 M199.9 625.1 L201.4 625.1 M201.4 625.1 L202.9 610.3 M202.9 610.3 L204.3 615.9 M204.3 615.9 L205.6 606.1 M205.6 606.1 L207.0 603.1 M207.0 603.1 L208.3 598.6 M208.3 598.6 L209.7 606.5 M209.7 606.5 L211.0 598.1 M211.0 598.1 L212.4 606.2 M212.4 606.2 L213.7 611.4 M213.7 611.4 L215.1 622.5 M215.1 622.5 L216.4 612.5 M216.4 612.5 L217.8 630.2 M217.8 630.2 L219.2 639.2 M219.2 639.2 L220.7 653.6 M220.7 653.6 L222.1 660.6 M222.1 660.6 L223.6 671.4 M223.6 671.4 L225.0 671.6 M225.0 671.6 L226.4 685.2 M226.4 685.2 L227.9 693.2 M227.9 693.2 L229.3 702.7 M229.3 702.7 L230.8 703.1 M230.8 703.1 L232.2 691.5 M232.2 691.5 L233.7 695.4 M233.7 695.4 L235.3 703.3 M235.3 703.3 L236.9 710.9 M236.9 710.9 L238.5 722.6 M238.5 722.6 L240.1 711.9 M240.1 711.9 L241.7 695.1 M241.7 695.1 L243.3 680.6 M243.3 680.6 L244.6 682.5 M244.6 682.5 L246.0 675.1 M246.0 675.1 L247.3 673.5 M247.3 673.5 L248.7 673.6 M248.7 673.6 L250.0 663.2 M250.0 663.2 L251.3 663.6 M251.3 663.6 L252.7 667.7 M252.7 667.7 L254.0 670.4 M254.0 670.4 L255.4 662.6 M255.4 662.6 L256.7 680.0 M256.7 680.0 L258.2 676.2 M258.2 676.2 L259.8 679.8 M259.8 679.8 L261.3 679.3 M261.3 679.3 L262.9 674.4 M262.9 674.4 L264.4 676.9 M264.4 676.9 L265.8 671.0 M265.8 671.0 L267.3 679.4 M267.3 679.4 L268.8 667.6 M268.8 667.6 L270.2 668.8 M270.2 668.8 L271.6 675.4 M271.6 675.4 L273.0 679.1 M273.0 679.1 L274.5 686.9 M274.5 686.9 L275.9 686.6 M275.9 686.6 L277.3 689.2 M277.3 689.2 L278.8 693.9 M278.8 693.9 L280.2 695.1 M280.2 695.1 L281.7 701.8 M281.7 701.8 L283.1 701.9 M283.1 701.9 L284.6 722.7 M284.6 722.7 L286.1 722.0 M286.1 722.0 L287.5 722.3 M287.5 722.3 L288.9 722.7 M288.9 722.7 L290.4 721.3 M290.4 721.3 L291.8 718.9 M291.8 718.9 L293.2 712.7 M293.2 712.7 L294.6 725.8 M294.6 725.8 L296.1 726.6 M296.1 726.6 L297.6 719.3 M297.6 719.3 L299.0 722.2 M299.0 722.2 L300.4 719.9 M300.4 719.9 L301.9 725.8 M301.9 725.8 L303.3 733.6 M303.3 733.6 L304.7 736.0 M304.7 736.0 L306.1 745.0 M306.1 745.0 L307.4 732.4 M307.4 732.4 L308.8 732.4 M308.8 732.4 L310.2 746.6 M310.2 746.6 L311.6 736.8 M311.6 736.8 L312.9 732.5 M312.9 732.5 L314.3 739.2 M314.3 739.2 L315.8 731.3 M315.8 731.3 L317.4 742.6 M317.4 742.6 L318.9 749.2 M318.9 749.2 L320.5 747.9 M320.5 747.9 L322.0 747.4 M322.0 747.4 L323.5 737.2 M323.5 737.2 L325.1 736.3 M325.1 736.3 L326.6 728.7 M326.6 728.7 L328.2 735.1 M328.2 735.1 L329.7 725.5 M329.7 725.5 L331.1 729.9 M331.1 729.9 L332.4 721.3 M332.4 721.3 L333.8 720.7 M333.8 720.7 L335.2 729.4 M335.2 729.4 L336.6 729.7 M336.6 729.7 L337.9 726.9 M337.9 726.9 L339.3 726.1 M339.3 726.1 L340.7 724.1 M340.7 724.1 L342.0 720.6 M342.0 720.6 L343.4 710.7 M343.4 710.7 L344.8 714.6 M344.8 714.6 L346.2 708.7 M346.2 708.7 L347.5 702.1 M347.5 702.1 L348.9 700.8 M348.9 700.8 L350.4 706.8 M350.4 706.8 L352.0 708.1 M352.0 708.1 L353.5 717.4 M353.5 717.4 L355.1 722.4 M355.1 722.4 L356.6 716.2 M356.6 716.2 L358.0 726.8 M358.0 726.8 L359.5 726.9 M359.5 726.9 L360.9 727.8 M360.9 727.8 L362.4 719.8 M362.4 719.8 L363.8 720.6 M363.8 720.6 L365.2 722.0 M365.2 722.0 L366.7 722.7 M366.7 722.7 L368.1 724.1 M368.1 724.1 L369.6 734.1 M369.6 734.1 L371.2 740.6 M371.2 740.6 L372.7 742.5 M372.7 742.5 L374.3 740.6 M374.3 740.6 L375.8 747.8 M375.8 747.8 L377.3 748.6 M377.3 748.6 L378.9 736.3 M378.9 736.3 L380.4 746.9 M380.4 746.9 L382.0 747.8 M382.0 747.8 L383.5 744.7 M383.5 744.7 L384.9 742.7 M384.9 742.7 L386.4 736.6 M386.4 736.6 L387.9 730.8 M387.9 730.8 L389.3 739.2 M389.3 739.2 L390.9 731.9 M390.9 731.9 L392.4 743.0 M392.4 743.0 L394.0 745.7 M394.0 745.7 L395.3 739.4 M395.3 739.4 L396.6 744.2 M396.6 744.2 L397.9 755.3 M397.9 755.3 L399.2 753.1 M399.2 753.1 L400.7 743.1 M400.7 743.1 L402.3 741.6 M402.3 741.6 L403.8 739.5 M403.8 739.5 L405.4 749.0 M405.4 749.0 L406.9 742.8 M406.9 742.8 L408.3 731.3 M408.3 731.3 L409.8 741.9 M409.8 741.9 L411.2 739.9 M411.2 739.9 L412.6 732.9 M412.6 732.9 L414.1 727.2 M414.1 727.2 L415.5 729.2 M415.5 729.2 L416.9 726.7 M416.9 726.7 L418.4 731.1 M418.4 731.1 L419.9 751.0 M419.9 751.0 L421.3 747.7 M421.3 747.7 L422.7 743.9 M422.7 743.9 L424.2 746.8 M424.2 746.8 L425.6 734.2 M425.6 734.2 L427.0 739.3 M427.0 739.3 L428.5 733.4 M428.5 733.4 L429.9 720.7 M429.9 720.7 L431.3 724.6 M431.3 724.6 L432.8 726.2 M432.8 726.2 L434.2 726.7 M434.2 726.7 L435.7 733.8 M435.7 733.8 L437.1 731.4 M437.1 731.4 L438.6 739.0 M438.6 739.0 L440.1 737.6 M440.1 737.6 L441.5 754.7 M441.5 754.7 L443.0 741.8 M443.0 741.8 L444.6 744.1 M444.6 744.1 L446.1 743.8 M446.1 743.8 L447.7 747.0 M447.7 747.0 L449.2 736.9 M449.2 736.9 L450.7 747.2 M450.7 747.2 L452.2 739.6 M452.2 739.6 L453.8 742.5 M453.8 742.5 L455.3 742.7 M455.3 742.7 L456.8 735.7 M456.8 735.7 L458.3 744.3 M458.3 744.3 L459.9 739.0 M459.9 739.0 L461.4 737.7 M461.4 737.7 L463.0 750.9 M463.0 750.9 L464.5 738.9 M464.5 738.9 L465.8 743.4 M465.8 743.4 L467.2 743.2 M467.2 743.2 L468.5 737.3 M468.5 737.3 L469.9 731.6 M469.9 731.6 L471.2 732.5 M471.2 732.5 L472.7 731.4 M472.7 731.4 L474.2 734.1 M474.2 734.1 L475.7 721.8 M475.7 721.8 L477.3 730.2 M477.3 730.2 L478.8 722.5 M478.8 722.5 L480.3 723.3 M480.3 723.3 L481.8 729.8 M481.8 729.8 L483.2 725.1 M483.2 725.1 L484.5 728.0 M484.5 728.0 L485.9 731.7 M485.9 731.7 L487.3 734.5 M487.3 734.5 L488.7 727.8 M488.7 727.8 L490.0 732.9 M490.0 732.9 L491.4 731.4 M491.4 731.4 L492.8 732.8 M492.8 732.8 L494.1 736.3 M494.1 736.3 L495.5 732.8 M495.5 732.8 L496.9 735.8 M496.9 735.8 L498.3 735.3 M498.3 735.3 L499.6 743.7 M499.6 743.7 L501.0 739.2 M501.0 739.2 L502.5 744.2 M502.5 744.2 L504.1 745.6 M504.1 745.6 L505.6 736.0 M505.6 736.0 L507.2 744.1 M507.2 744.1 L508.7 749.9 M508.7 749.9 L510.1 742.0 M510.1 742.0 L511.6 726.2 M511.6 726.2 L513.0 722.8 M513.0 722.8 L514.5 722.1 M514.5 722.1 L515.9 714.6 M515.9 714.6 L517.2 717.7 M517.2 717.7 L518.6 713.5 M518.6 713.5 L520.0 722.7 M520.0 722.7 L521.4 721.7 M521.4 721.7 L522.7 722.7 M522.7 722.7 L524.1 709.9 M524.1 709.9 L525.7 715.3 M525.7 715.3 L527.3 706.4 M527.3 706.4 L528.9 693.2 M528.9 693.2 L530.3 706.4 M530.3 706.4 L531.7 705.2 M531.7 705.2 L533.1 693.8 M533.1 693.8 L534.5 707.7 M534.5 707.7 L535.8 696.4 M535.8 696.4 L537.2 700.1 M537.2 700.1 L538.6 707.4 M538.6 707.4 L540.0 703.6 M540.0 703.6 L541.4 694.0 M541.4 694.0 L542.7 705.0 M542.7 705.0 L543.9 709.9 M543.9 709.9 L545.2 711.9 M545.2 711.9 L546.6 710.5 M546.6 710.5 L547.9 713.0 M547.9 713.0 L549.3 719.2 M549.3 719.2 L550.7 707.3 M550.7 707.3 L552.1 718.4 M552.1 718.4 L553.4 714.7 M553.4 714.7 L554.8 709.1 M554.8 709.1 L556.4 718.4 M556.4 718.4 L558.0 725.0 M558.0 725.0 L559.6 725.8 M559.6 725.8 L561.1 718.9 M561.1 718.9 L562.6 734.4 M562.6 734.4 L564.1 727.9 M564.1 727.9 L565.7 731.8 M565.7 731.8 L567.2 717.1 M567.2 717.1 L568.7 722.2 M568.7 722.2 L570.2 717.3 M570.2 717.3 L571.6 728.7 M571.6 728.7 L572.9 717.2 M572.9 717.2 L574.3 715.9 M574.3 715.9 L575.7 719.5 M575.7 719.5 L577.1 725.1 M577.1 725.1 L578.4 721.2 M578.4 721.2 L579.8 711.9 M579.8 711.9 L581.2 711.6 M581.2 711.6 L582.7 723.4 M582.7 723.4 L584.1 715.3 M584.1 715.3 L585.5 718.7 M585.5 718.7 L587.0 708.1 M587.0 708.1 L588.4 709.5 M588.4 709.5 L589.9 718.8 M589.9 718.8 L591.3 712.5 M591.3 712.5 L592.9 701.1 M592.9 701.1 L594.5 708.5 M594.5 708.5 L596.1 693.8 M596.1 693.8 L597.7 694.1 M597.7 694.1 L599.3 678.2 M599.3 678.2 L600.9 688.9 M600.9 688.9 L602.3 673.0 M602.3 673.0 L603.6 688.0 M603.6 688.0 L605.0 678.0 M605.0 678.0 L606.4 677.5 M606.4 677.5 L607.8 680.3 M607.8 680.3 L609.1 685.0 M609.1 685.0 L610.5 673.1 M610.5 673.1 L611.8 666.3 M611.8 666.3 L613.2 665.5 M613.2 665.5 L614.5 652.9 M614.5 652.9 L615.9 645.1 M615.9 645.1 L617.2 639.1 M617.2 639.1 L618.7 641.0 M618.7 641.0 L620.1 647.6 M620.1 647.6 L621.5 652.6 M621.5 652.6 L623.0 656.1 M623.0 656.1 L624.5 667.2 M624.5 667.2 L625.9 662.2 M625.9 662.2 L627.4 665.7 M627.4 665.7 L629.0 658.1 M629.0 658.1 L630.5 660.5 M630.5 660.5 L632.1 653.0 M632.1 653.0 L633.6 656.3 M633.6 656.3 L635.0 646.9 M635.0 646.9 L636.5 654.2 M636.5 654.2 L637.9 644.1 M637.9 644.1 L639.3 634.7 M639.3 634.7 L640.7 639.0 M640.7 639.0 L642.0 644.0 M642.0 644.0 L643.4 628.7 M643.4 628.7 L644.8 641.7 M644.8 641.7 L646.2 631.7 M646.2 631.7 L647.5 633.4 M647.5 633.4 L648.9 637.1 M648.9 637.1 L650.3 630.0 M650.3 630.0 L651.6 634.2 M651.6 634.2 L653.0 637.2 M653.0 637.2 L654.4 642.2 M654.4 642.2 L655.8 632.1 M655.8 632.1 L657.1 642.8 M657.1 642.8 L658.5 639.6 M658.5 639.6 L659.9 636.9 M659.9 636.9 L661.2 630.8 M661.2 630.8 L662.6 628.2 M662.6 628.2 L664.0 621.1 M664.0 621.1 L665.4 620.8 M665.4 620.8 L666.7 616.9 M666.7 616.9 L668.1 625.2 M668.1 625.2 L669.6 612.4 M669.6 612.4 L671.2 609.9 M671.2 609.9 L672.7 605.5 M672.7 605.5 L674.3 614.5 M674.3 614.5 L675.8 609.5 M675.8 609.5 L677.2 606.3 M677.2 606.3 L678.7 600.3 M678.7 600.3 L680.1 600.4 M680.1 600.4 L681.5 600.6 M681.5 600.6 L683.0 602.6 M683.0 602.6 L684.4 597.0 M684.4 597.0 L685.9 602.1 M685.9 602.1 L687.3 597.6 M687.3 597.6 L688.6 610.4 M688.6 610.4 L690.0 609.1 M690.0 609.1 L691.3 603.9 M691.3 603.9 L692.7 601.3 M692.7 601.3 L694.0 614.3 M694.0 614.3 L695.4 602.6 M695.4 602.6 L696.7 614.3 M696.7 614.3 L698.1 616.5 M698.1 616.5 L699.4 632.2 M699.4 632.2 L700.8 640.6 M700.8 640.6 L702.1 649.5 M702.1 649.5 L703.7 632.5 M703.7 632.5 L705.3 626.1 M705.3 626.1 L706.9 604.9 M706.9 604.9 L708.3 610.8 M708.3 610.8 L709.6 606.9 M709.6 606.9 L711.0 612.5 M711.0 612.5 L712.4 605.8 M712.4 605.8 L713.8 606.8 M713.8 606.8 L715.1 611.0 M715.1 611.0 L716.5 609.1 M716.5 609.1 L718.0 611.9 M718.0 611.9 L719.6 606.8 M719.6 606.8 L721.1 607.6 M721.1 607.6 L722.7 602.3 M722.7 602.3 L724.2 600.6 M724.2 600.6 L725.5 592.7 M725.5 592.7 L726.7 574.3 M726.7 574.3 L728.0 564.6 M728.0 564.6 L729.6 569.1 M729.6 569.1 L731.2 548.2 M731.2 548.2 L732.8 554.4 M732.8 554.4 L734.1 554.2 M734.1 554.2 L735.5 549.0 M735.5 549.0 L736.8 566.6 M736.8 566.6 L738.2 568.1 M738.2 568.1 L739.5 567.8 M739.5 567.8 L740.9 568.0 M740.9 568.0 L742.2 566.4 M742.2 566.4 L743.6 553.4 M743.6 553.4 L744.9 559.3 M744.9 559.3 L746.3 555.0 M746.3 555.0 L747.9 555.5 M747.9 555.5 L749.5 548.7 M749.5 548.7 L751.1 544.3 M751.1 544.3 L752.0 505.8 M752.0 505.8 L753.6 514.0 M753.6 514.0 L755.2 512.1 M755.2 512.1 L756.8 515.7 M756.8 515.7 L758.8 535.1 M758.8 535.1 L760.2 534.0 M760.2 534.0 L761.6 536.4 M761.6 536.4 L763.1 540.1 M763.1 540.1 L764.5 536.0 M764.5 536.0 L765.8 561.2 M765.8 561.2 L767.1 567.1 M767.1 567.1 L768.4 582.4 M768.4 582.4 L769.8 578.5 M769.8 578.5 L771.2 576.1 M771.2 576.1 L772.7 569.5 M772.7 569.5 L774.1 559.1 M774.1 559.1 L775.5 585.5 M775.5 585.5 L777.0 594.5 M777.0 594.5 L778.5 603.8 M778.5 603.8 L779.9 617.4 M779.9 617.4 L781.2 614.9 M781.2 614.9 L782.6 601.0 M782.6 601.0 L783.9 609.2 M783.9 609.2 L785.3 594.9 M785.3 594.9 L786.6 589.9 M786.6 589.9 L788.0 589.2 M788.0 589.2 L789.5 592.0 M789.5 592.0 L791.0 578.7 M791.0 578.7 L792.4 585.1 M792.4 585.1 L793.8 582.9 M793.8 582.9 L795.3 571.2 M795.3 571.2 L796.7 574.9 M796.7 574.9 L798.1 580.3 M798.1 580.3 L799.6 587.0 M799.6 587.0 L801.0 591.6 M801.0 591.6 L802.5 597.3 M802.5 597.3 L803.9 606.3 M803.9 606.3 L805.3 605.4 M805.3 605.4 L806.8 616.5 M806.8 616.5 L808.1 623.5 M808.1 623.5 L809.4 636.9 M809.4 636.9 L810.7 634.5 M810.7 634.5 L812.2 637.9 M812.2 637.9 L813.6 625.6 M813.6 625.6 L815.0 625.9 M815.0 625.9 L816.5 626.2 M816.5 626.2 L818.1 639.4 M818.1 639.4 L819.7 646.0 M819.7 646.0 L821.3 653.3 M821.3 653.3 L822.6 645.9 M822.6 645.9 L824.0 649.3 M824.0 649.3 L825.3 646.2 M825.3 646.2 L826.7 645.2 M826.7 645.2 L828.0 638.3 M828.0 638.3 L829.6 646.4 M829.6 646.4 L831.2 627.7 M831.2 627.7 L832.8 637.5 M832.8 637.5 L834.1 632.1 M834.1 632.1 L835.5 616.7 M835.5 616.7 L836.8 624.6 M836.8 624.6 L838.2 626.6 M838.2 626.6 L839.5 626.4 M839.5 626.4 L841.1 625.8 M841.1 625.8 L842.8 632.5 M842.8 632.5 L844.4 639.6 M844.4 639.6 L845.8 650.8 M845.8 650.8 L847.2 636.4 M847.2 636.4 L848.7 644.5 M848.7 644.5 L850.1 635.4 M850.1 635.4 L851.5 641.3 M851.5 641.3 L853.0 644.7 M853.0 644.7 L854.5 629.0 M854.5 629.0 L855.9 640.7 M855.9 640.7 L857.3 637.0 M857.3 637.0 L858.8 648.4 M858.8 648.4 L860.2 647.9 M860.2 647.9 L861.6 645.3 M861.6 645.3 L862.9 666.8 M862.9 666.8 L864.2 667.7 M864.2 667.7 L865.5 671.9 M865.5 671.9 L867.0 709.0 M867.0 709.0 L868.4 752.8 M868.4 752.8 L869.8 736.3 M869.8 736.3 L871.2 720.0 M871.2 720.0 L873.2 679.4 M873.2 679.4 L874.5 685.0 M874.5 685.0 L875.9 685.7 M875.9 685.7 L877.2 696.1 M877.2 696.1 L878.6 683.2 M878.6 683.2 L879.9 699.8 M879.9 699.8 L881.2 697.9 M881.2 697.9 L882.6 686.5 M882.6 686.5 L883.9 701.0 M883.9 701.0 L885.3 694.3 M885.3 694.3 L886.6 698.1 M886.6 698.1 L887.9 690.0 M887.9 690.0 L889.3 695.7 M889.3 695.7 L890.6 697.6 M890.6 697.6 L892.0 709.5 M892.0 709.5 L893.3 703.5 M893.3 703.5 L894.8 704.9 M894.8 704.9 L896.2 709.7 M896.2 709.7 L897.6 710.4 M897.6 710.4 L899.1 710.8 M899.1 710.8 L900.4 700.1 M900.4 700.1 L901.6 699.1 M901.6 699.1 L902.9 676.1 M902.9 676.1 L904.4 687.3 M904.4 687.3 L906.0 672.9 M906.0 672.9 L907.5 674.6 M907.5 674.6 L909.1 676.7 M909.1 676.7 L910.6 669.9 M910.6 669.9 L911.9 679.0 M911.9 679.0 L913.2 692.5 M913.2 692.5 L914.5 694.9 M914.5 694.9 L915.9 687.1 M915.9 687.1 L917.4 677.2 M917.4 677.2 L918.8 674.9 M918.8 674.9 L920.2 667.2 M920.2 667.2 L921.7 661.9 M921.7 661.9 L923.3 666.5 M923.3 666.5 L924.8 656.0 M924.8 656.0 L926.4 669.7 M926.4 669.7 L927.9 663.5 M927.9 663.5 L929.5 658.1 M929.5 658.1 L931.1 643.6 M931.1 643.6 L932.7 627.1 M932.7 627.1 L934.0 630.9 M934.0 630.9 L935.4 651.7 M935.4 651.7 L936.7 642.9 M936.7 642.9 L938.1 657.9 M938.1 657.9 L939.4 660.7 M939.4 660.7 L940.9 655.8 M940.9 655.8 L942.5 657.7 M942.5 657.7 L944.0 655.0 M944.0 655.0 L945.6 638.3 M945.6 638.3 L947.1 641.9 M947.1 641.9 L948.6 631.5 M948.6 631.5 L950.2 633.9 M950.2 633.9 L951.7 627.2 M951.7 627.2 L953.3 621.3 M953.3 621.3 L954.8 618.7 M954.8 618.7 L956.2 625.5 M956.2 625.5 L957.7 642.6 M957.7 642.6 L959.1 640.3 M959.1 640.3 L960.6 643.9 M960.6 643.9 L962.0 671.5 M962.0 671.5 L963.4 687.0 M963.4 687.0 L964.8 672.5 M964.8 672.5 L966.1 663.1 M966.1 663.1 L967.5 658.4 M967.5 658.4 L968.8 650.4 M968.8 650.4 L970.2 648.6 M970.2 648.6 L971.7 640.1 M971.7 640.1 L973.2 639.8 M973.2 639.8 L974.8 635.8 M974.8 635.8 L976.3 637.1 M976.3 637.1 L977.8 637.4 M977.8 637.4 L979.2 638.5 M979.2 638.5 L980.7 637.9 M980.7 637.9 L982.1 643.0 M982.1 643.0 L983.6 648.6 M983.6 648.6 L985.2 655.6 M985.2 655.6 L986.8 665.1 M986.8 665.1 L988.4 670.4 M988.4 670.4 L989.7 679.6 M989.7 679.6 L991.1 694.6 M991.1 694.6 L992.4 684.4 M992.4 684.4 L993.8 698.3 M993.8 698.3 L995.1 703.5 M995.1 703.5 L996.5 707.6 M996.5 707.6 L998.0 697.2 M998.0 697.2 L999.5 700.7 M999.5 700.7 L1000.9 700.3 M1000.9 700.3 L1002.2 690.7 M1002.2 690.7 L1003.4 678.7 M1003.4 678.7 L1004.7 674.5 M1004.7 674.5 L1006.3 684.7 M1006.3 684.7 L1007.9 699.2 M1007.9 699.2 L1009.5 699.1 M1009.5 699.1 L1010.9 712.3 M1010.9 712.3 L1012.2 732.7 M1012.2 732.7 L1013.6 744.0 M1013.6 744.0 L1014.9 747.6 M1014.9 747.6 L1016.3 761.1 M1016.3 761.1 L1017.7 736.4 M1017.7 736.4 L1019.1 729.6 M1019.1 729.6 L1020.6 721.5 M1020.6 721.5 L1022.0 703.7 M1022.0 703.7 L1023.6 687.4 M1023.6 687.4 L1025.2 671.7 M1025.2 671.7 L1026.8 642.8 M1026.8 642.8 L1028.4 635.3 M1028.4 635.3 L1030.0 628.3 M1030.0 628.3 L1031.6 626.2 M1031.6 626.2 L1033.0 631.4 M1033.0 631.4 L1034.5 639.0 M1034.5 639.0 L1036.0 638.7 M1036.0 638.7 L1037.4 642.2 M1037.4 642.2 L1038.9 639.9 M1038.9 639.9 L1040.5 630.4 M1040.5 630.4 L1042.0 628.7 M1042.0 628.7 L1043.6 616.0 M1043.6 616.0 L1045.1 625.1 M1045.1 625.1 L1046.6 611.9 M1046.6 611.9 L1048.2 623.0 M1048.2 623.0 L1049.7 614.2 M1049.7 614.2 L1051.3 608.3 M1051.3 608.3 L1052.8 604.4 M1052.8 604.4 L1054.1 605.1 M1054.1 605.1 L1055.4 609.0 M1055.4 609.0 L1056.7 607.2 M1056.7 607.2 L1058.0 596.4 M1058.0 596.4 L1059.6 596.1 M1059.6 596.1 L1061.2 601.5 M1061.2 601.5 L1062.9 599.5 M1062.9 599.5 L1064.5 595.0 M1064.5 595.0 L1065.8 590.1 M1065.8 590.1 L1067.2 593.4 M1067.2 593.4 L1068.5 579.9 M1068.5 579.9 L1069.6 581.0 M1069.6 581.0 L1070.7 576.7 M1070.7 576.7 L1071.8 589.8 M1071.8 589.8 L1073.0 588.8 M1073.0 588.8 L1074.3 596.5 M1074.3 596.5 L1075.7 591.8 M1075.7 591.8 L1077.0 592.2 M1077.0 592.2 L1078.5 600.8 M1078.5 600.8 L1080.0 619.9 M1080.0 619.9 L1081.3 618.8 M1081.3 618.8 L1082.5 619.1 M1082.5 619.1 L1083.8 620.8 M1083.8 620.8 L1085.3 629.7 M1085.3 629.7 L1086.9 631.6 M1086.9 631.6 L1088.4 628.1 M1088.4 628.1 L1090.0 627.2 M1090.0 627.2 L1091.5 634.7 M1091.5 634.7 L1093.1 638.7 M1093.1 638.7 L1094.7 628.5 M1094.7 628.5 L1096.3 629.1 M1096.3 629.1 L1097.6 639.7 M1097.6 639.7 L1098.9 645.8 M1098.9 645.8 L1100.2 655.6 M1100.2 655.6 L1101.5 643.3 M1101.5 643.3 L1102.9 650.5 M1102.9 650.5 L1104.2 643.6 M1104.2 643.6 L1105.6 636.7 M1105.6 636.7 L1106.9 628.8 M1106.9 628.8 L1108.2 634.5 M1108.2 634.5 L1109.4 614.6 M1109.4 614.6 L1110.7 618.1 M1110.7 618.1 L1112.2 605.3 M1112.2 605.3 L1113.8 605.8 M1113.8 605.8 L1115.3 612.3 M1115.3 612.3 L1116.9 601.9 M1116.9 601.9 L1118.4 612.4 M1118.4 612.4 L1119.9 604.3 M1119.9 604.3 L1121.3 602.8 M1121.3 602.8 L1122.8 605.4 M1122.8 605.4 L1124.2 609.7 M1124.2 609.7 L1125.7 627.4 M1125.7 627.4 L1127.1 645.6 M1127.1 645.6 L1128.4 628.4 M1128.4 628.4 L1129.6 631.1 M1129.6 631.1 L1130.9 623.2 M1130.9 623.2 L1131.9 585.9 M1131.9 585.9 L1133.8 531.9 M1133.8 531.9 L1135.3 515.7 M1135.3 515.7 L1136.9 497.5 M1136.9 497.5 L1138.2 491.9 M1138.2 491.9 L1139.4 487.8 M1139.4 487.8 L1140.7 475.3 M1140.7 475.3 L1142.0 467.5 M1142.0 467.5 L1143.3 466.3 M1143.3 466.3 L1144.6 458.6 M1144.6 458.6 L1145.9 450.7 M1145.9 450.7 L1147.3 451.4 M1147.3 451.4 L1148.6 464.4 M1148.6 464.4 L1150.0 460.3 M1150.0 460.3 L1151.3 451.3 M1151.3 451.3 L1152.9 454.3 M1152.9 454.3 L1154.5 438.4 M1154.5 438.4 L1156.1 430.8 M1156.1 430.8 L1157.5 429.4 M1157.5 429.4 L1159.0 426.5 M1159.0 426.5 L1160.5 423.9 M1160.5 423.9 L1161.9 428.2 M1161.9 428.2 L1163.2 438.6 M1163.2 438.6 L1164.4 458.3 M1164.4 458.3 L1165.7 453.6 M1165.7 453.6 L1167.2 441.9 M1167.2 441.9 L1168.6 399.0 M1168.6 399.0 L1169.9 398.6 M1169.9 398.6 L1171.3 399.0 M1171.3 399.0 L1172.6 392.0 M1172.6 392.0 L1174.0 380.4 M1174.0 380.4 L1175.3 369.8 M1175.3 369.8 L1176.6 387.0 M1176.6 387.0 L1177.9 393.5 M1177.9 393.5 L1179.2 412.3 M1179.2 412.3 L1180.8 404.2 M1180.8 404.2 L1182.4 414.7 M1182.4 414.7 L1184.0 427.1 M1184.0 427.1 L1185.6 409.5 M1185.6 409.5 L1187.2 415.9 M1187.2 415.9 L1188.8 417.8 M1188.8 417.8 L1190.1 424.5 M1190.1 424.5 L1191.3 421.8 M1191.3 421.8 L1192.6 432.3 M1192.6 432.3 L1194.1 433.0 M1194.1 433.0 L1195.7 447.2 M1195.7 447.2 L1197.2 434.9 M1197.2 434.9 L1198.8 446.0 M1198.8 446.0 L1200.3 447.1 M1200.3 447.1 L1201.7 432.0 M1201.7 432.0 L1203.2 426.4 M1203.2 426.4 L1204.6 430.8 M1204.6 430.8 L1206.0 417.1 M1206.0 417.1 L1207.3 407.2 M1207.3 407.2 L1208.6 409.4 M1208.6 409.4 L1209.9 395.8 M1209.9 395.8 L1211.2 396.8 M1211.2 396.8 L1212.6 392.5 M1212.6 392.5 L1214.0 405.3 M1214.0 405.3 L1215.3 405.4 M1215.3 405.4 L1216.8 384.0 M1216.8 384.0 L1218.2 372.7 M1218.2 372.7 L1219.7 343.6 M1219.7 343.6 L1221.2 336.5 M1221.2 336.5 L1222.7 325.4 M1222.7 325.4 L1224.6 305.5 M1224.6 305.5 L1225.9 304.8 M1225.9 304.8 L1227.3 297.0 M1227.3 297.0 L1228.6 297.4 M1228.6 297.4 L1230.0 301.0 M1230.0 301.0 L1231.3 302.2 M1231.3 302.2 L1232.9 303.1 M1232.9 303.1 L1234.5 284.4 M1234.5 284.4 L1236.1 290.9 M1236.1 290.9 L1237.4 294.5 M1237.4 294.5 L1238.6 303.5 M1238.6 303.5 L1239.9 309.4 M1239.9 309.4 L1241.2 319.8 M1241.2 319.8 L1242.5 328.8 M1242.5 328.8 L1243.8 342.3 M1243.8 342.3 L1245.2 361.0 M1245.2 361.0 L1246.7 385.8 M1246.7 385.8 L1248.3 361.3 M1248.3 361.3 L1249.9 353.4 M1249.9 353.4 L1251.5 349.1 M1251.5 349.1 L1253.4 364.5 M1253.4 364.5 L1255.0 348.9 M1255.0 348.9 L1256.6 333.9 M1256.6 333.9 L1258.2 327.4 M1258.2 327.4 L1259.6 322.8 M1259.6 322.8 L1261.1 334.7 M1261.1 334.7 L1262.5 331.6 M1262.5 331.6 L1263.9 334.6 M1263.9 334.6 L1265.4 323.4 M1265.4 323.4 L1266.8 323.6 M1266.8 323.6 L1268.1 338.6 M1268.1 338.6 L1269.4 359.6 M1269.4 359.6 L1270.7 376.4 M1270.7 376.4 L1272.3 355.9 M1272.3 355.9 L1273.9 337.4 M1273.9 337.4 L1275.5 324.8 M1275.5 324.8 L1277.1 335.0 M1277.1 335.0 L1278.7 343.0 M1278.7 343.0 L1280.3 351.7 M1280.3 351.7 L1282.2 322.4 M1282.2 322.4 L1283.7 313.9 M1283.7 313.9 L1285.1 300.7 M1285.1 300.7 L1286.5 308.3 M1286.5 308.3 L1288.0 291.8 M1288.0 291.8 L1289.4 301.3 M1289.4 301.3 L1290.8 299.8 M1290.8 299.8 L1292.3 309.3 M1292.3 309.3 L1293.7 302.4 M1293.7 302.4 L1295.0 297.5 M1295.0 297.5 L1296.3 289.2 M1296.3 289.2 L1297.6 280.1 M1297.6 280.1 L1298.9 291.2 M1298.9 291.2 L1300.1 283.5 M1300.1 283.5 L1301.4 280.3 M1301.4 280.3 L1303.3 235.8 M1303.3 235.8 L1304.8 244.8 M1304.8 244.8 L1306.2 235.4 M1306.2 235.4 L1307.6 233.0 M1307.6 233.0 L1309.1 242.5 M1309.1 242.5 L1310.5 259.3 M1310.5 259.3 L1312.0 286.6 M1312.0 286.6 L1313.3 275.9 M1313.3 275.9 L1314.5 289.3 M1314.5 289.3 L1315.8 297.4 M1315.8 297.4 L1317.1 299.3 M1317.1 299.3 L1318.5 302.8 M1318.5 302.8 L1319.8 291.2 M1319.8 291.2 L1321.2 300.2 M1321.2 300.2 L1322.5 298.4 M1322.5 298.4 L1323.8 289.5 M1323.8 289.5 L1325.1 290.5 M1325.1 290.5 L1326.4 271.2 M1326.4 271.2 L1327.8 277.3 M1327.8 277.3 L1329.2 266.2 M1329.2 266.2 L1330.7 275.0 M1330.7 275.0 L1332.1 265.5 M1332.1 265.5 L1333.4 261.1 M1333.4 261.1 L1334.7 266.2 M1334.7 266.2 L1336.0 264.0 M1336.0 264.0 L1337.5 252.9 M1337.5 252.9 L1339.1 265.6 M1339.1 265.6 L1340.6 266.2 M1340.6 266.2 L1342.2 262.5 M1342.2 262.5 L1343.7 268.4 M1343.7 268.4 L1345.2 246.9 M1345.2 246.9 L1346.6 231.4 M1346.6 231.4 L1347.9 231.1 M1347.9 231.1 L1349.3 235.6 M1349.3 235.6 L1350.6 234.6 M1350.6 234.6 L1352.0 226.8 M1352.0 226.8 L1353.3 224.4 M1353.3 224.4 L1354.9 227.0 M1354.9 227.0 L1356.5 228.8 M1356.5 228.8 L1358.1 217.4 M1358.1 217.4 L1359.6 231.8 M1359.6 231.8 L1361.2 240.1 M1361.2 240.1 L1362.7 260.5 M1362.7 260.5 L1364.0 258.3 M1364.0 258.3 L1365.3 255.5 M1365.3 255.5 L1366.7 261.1 M1366.7 261.1 L1368.0 268.9 M1368.0 268.9 L1369.5 256.5 M1369.5 256.5 L1371.0 243.5 M1371.0 243.5 L1372.3 233.9 M1372.3 233.9 L1373.7 236.1 M1373.7 236.1 L1375.0 243.1 M1375.0 243.1 L1376.3 236.3 M1376.3 236.3 L1377.7 234.8 M1377.7 234.8 L1379.0 234.6 M1379.0 234.6 L1380.7 255.1 M1380.7 255.1 L1382.3 253.5 M1382.3 253.5 L1384.0 270.4 M1384.0 270.4 L1385.5 275.2 M1385.5 275.2 L1387.1 286.4 M1387.1 286.4 L1388.6 302.4 M1388.6 302.4 L1390.2 295.1 M1390.2 295.1 L1391.8 277.0 M1391.8 277.0 L1393.4 268.4 M1393.4 268.4 L1395.0 276.3 M1395.0 276.3 L1396.6 265.8 M1396.6 265.8 L1398.1 264.1 M1398.1 264.1 L1399.7 277.7 M1399.7 277.7 L1401.3 266.8 M1401.3 266.8 L1402.8 270.5 M1402.8 270.5 L1404.4 257.7 M1404.4 257.7 L1405.9 262.2 M1405.9 262.2 L1407.5 249.2 M1407.5 249.2 L1409.0 241.6 M1409.0 241.6 L1410.7 250.1 M1410.7 250.1 L1412.3 269.1 M1412.3 269.1 L1414.0 279.0 M1414.0 279.0 L1415.6 271.3 M1415.6 271.3 L1417.2 245.6 M1417.2 245.6 L1418.9 244.7 M1418.9 244.7 L1420.5 226.6 M1420.5 226.6 L1421.9 229.4 M1421.9 229.4 L1423.3 222.5 M1423.3 222.5 L1424.7 225.4 M1424.7 225.4 L1426.2 227.9 M1426.2 227.9 L1427.6 233.1 M1427.6 233.1 L1429.0 218.6 M1429.0 218.6 L1430.4 226.8 M1430.4 226.8 L1431.8 222.4 M1431.8 222.4 L1433.1 216.7 M1433.1 216.7 L1434.5 196.6 M1434.5 196.6 L1436.0 193.6 M1436.0 193.6 L1437.4 201.8 M1437.4 201.8 L1438.8 195.5 M1438.8 195.5 L1440.3 183.9 M1440.3 183.9 L1441.8 178.2 M1441.8 178.2 L1443.4 192.6 M1443.4 192.6 L1444.9 180.8 M1444.9 180.8 L1446.5 190.8 M1446.5 190.8 L1448.0 183.9 M1448.0 183.9 L1449.9 240.3 M1449.9 240.3 L1451.2 230.1 M1451.2 230.1 L1452.6 243.3 M1452.6 243.3 L1453.9 233.2 M1453.9 233.2 L1455.3 239.5 M1455.3 239.5 L1456.6 246.5 M1456.6 246.5 L1458.2 236.7 M1458.2 236.7 L1459.8 218.6 M1459.8 218.6 L1461.4 212.7 M1461.4 212.7 L1462.9 214.3 M1462.9 214.3 L1464.5 214.9 M1464.5 214.9 L1466.0 211.8 M1466.0 211.8 L1467.6 207.4 M1467.6 207.4 L1469.1 209.3 M1469.1 209.3 L1470.5 224.0 M1470.5 224.0 L1472.0 233.0 M1472.0 233.0 L1473.5 226.9 M1473.5 226.9 L1474.9 245.5 M1474.9 245.5 L1476.4 239.1 M1476.4 239.1 L1477.9 220.4 M1477.9 220.4 L1479.5 227.9 M1479.5 227.9 L1481.0 206.3 M1481.0 206.3 L1482.5 209.4 M1482.5 209.4 L1484.0 209.7 M1484.0 209.7 L1485.6 214.5 M1485.6 214.5 L1487.1 212.2 M1487.1 212.2 L1488.7 218.2 M1488.7 218.2 L1490.2 223.2 M1490.2 223.2 L1491.7 216.0 M1491.7 216.0 L1493.1 215.9 M1493.1 215.9 L1494.5 207.4 M1494.5 207.4 L1496.0 203.8 M1496.0 203.8 L1497.4 196.6 M1497.4 196.6 L1498.7 206.7 M1498.7 206.7 L1500.1 202.0 M1500.1 202.0 L1501.5 198.3 M1501.5 198.3 L1502.9 206.7 M1502.9 206.7 L1504.2 204.6 M1504.2 204.6 L1505.6 199.4 M1505.6 199.4 L1506.9 207.5 M1506.9 207.5 L1508.1 224.3 M1508.1 224.3 L1509.4 229.0 M1509.4 229.0 L1510.9 232.6 M1510.9 232.6 L1512.3 238.9 M1512.3 238.9 L1513.8 234.6 M1513.8 234.6 L1515.2 243.3 M1515.2 243.3 L1517.1 282.4 M1517.1 282.4 L1518.6 273.0 M1518.6 273.0 L1520.2 281.6 M1520.2 281.6 L1521.7 268.7 M1521.7 268.7 L1523.3 278.9 M1523.3 278.9 L1524.8 275.0 M1524.8 275.0 L1526.4 260.3 M1526.4 260.3 L1528.0 243.1 M1528.0 243.1 L1529.6 240.5 M1529.6 240.5 L1531.2 219.0 M1531.2 219.0 L1532.8 210.7 M1532.8 210.7 L1534.4 178.1 M1534.4 178.1 L1535.7 196.6 M1535.7 196.6 L1537.1 200.1 M1537.1 200.1 L1538.4 200.3 M1538.4 200.3 L1539.8 206.6 M1539.8 206.6 L1541.1 200.7 M1541.1 200.7 L1542.4 210.5 M1542.4 210.5 L1543.8 195.3 M1543.8 195.3 L1545.1 200.1 M1545.1 200.1 L1546.5 193.0 M1546.5 193.0 L1547.8 177.1 M1547.8 177.1 L1549.3 188.0 M1549.3 188.0 L1550.9 186.7 M1550.9 186.7 L1552.4 172.0 M1552.4 172.0 L1554.0 178.0 M1554.0 178.0 L1555.5 181.8 M1555.5 181.8 L1557.0 155.1 M1557.0 155.1 L1558.4 152.5 M1558.4 152.5 L1559.7 139.4 M1559.7 139.4 L1561.1 149.8 M1561.1 149.8 L1562.4 136.5 M1562.4 136.5 L1563.8 144.1 M1563.8 144.1 L1565.1 148.4 M1565.1 148.4 L1566.7 143.0 M1566.7 143.0 L1568.3 153.0 M1568.3 153.0 L1569.9 162.9 M1569.9 162.9 L1571.2 152.3 M1571.2 152.3 L1572.5 141.5 M1572.5 141.5 L1573.8 137.5 M1573.8 137.5 L1575.1 135.2 M1575.1 135.2 L1576.5 146.2 M1576.5 146.2 L1577.8 138.3 M1577.8 138.3 L1579.2 141.7 M1579.2 141.7 L1580.5 128.0 M1580.5 128.0 L1582.4 187.2 M1582.4 187.2 L1583.9 173.3 M1583.9 173.3 L1585.3 181.5 M1585.3 181.5 L1586.8 180.3 M1586.8 180.3 L1588.2 175.1 M1588.2 175.1 L1589.5 180.1 M1589.5 180.1 L1590.9 169.5 M1590.9 169.5 L1592.2 167.4 M1592.2 167.4 L1593.6 168.0 M1593.6 168.0 L1594.9 151.1 M1594.9 151.1 L1596.2 164.5 M1596.2 164.5 L1597.6 152.5 M1597.6 152.5 L1598.9 147.5 M1598.9 147.5 L1600.3 151.2 M1600.3 151.2 L1601.6 143.1" fill="none" stroke="#7d779d" stroke-width="9.4" stroke-linecap="butt"/>
<text class="b" x="66.5" y="84.4" text-anchor="end" textLength="32.0" lengthAdjust="spacingAndGlyphs">50</text>
<text class="b" x="66.5" y="215.6" text-anchor="end" textLength="32.0" lengthAdjust="spacingAndGlyphs">40</text>
<text class="b" x="66.5" y="346.4" text-anchor="end" textLength="32.0" lengthAdjust="spacingAndGlyphs">30</text>
<text class="b" x="66.5" y="477.3" text-anchor="end" textLength="32.0" lengthAdjust="spacingAndGlyphs">20</text>
<text class="b" x="66.5" y="608.2" text-anchor="end" textLength="32.0" lengthAdjust="spacingAndGlyphs">10</text>
<text class="b" x="66.5" y="739.1" text-anchor="end" textLength="16.0" lengthAdjust="spacingAndGlyphs">0</text>
<text class="b" x="66.5" y="870.3" text-anchor="end" textLength="42.0" lengthAdjust="spacingAndGlyphs">-10</text>
<text class="b c" x="87.7" y="925.7" text-anchor="middle" textLength="94.5" lengthAdjust="spacingAndGlyphs">Dec 13</text>
<text class="b c" x="466.3" y="925.7" text-anchor="middle" textLength="94.5" lengthAdjust="spacingAndGlyphs">Dec 14</text>
<text class="b c" x="844.9" y="925.7" text-anchor="middle" textLength="94.5" lengthAdjust="spacingAndGlyphs">Dec 15</text>
<text class="b c" x="1223.5" y="925.7" text-anchor="middle" textLength="94.5" lengthAdjust="spacingAndGlyphs">Dec 16</text>
<text class="b c" x="1602.1" y="925.7" text-anchor="middle" textLength="94.5" lengthAdjust="spacingAndGlyphs">Dec 17</text>
<rect x="515" y="179.7" width="37" height="20.4" fill="#7d779d"/>
<rect x="515" y="214.2" width="37" height="20.4" fill="#939598"/>
<text class="b c" x="571" y="199.4" textLength="325.5" lengthAdjust="spacingAndGlyphs">Moz Afzal track record</text>
<text class="b c" x="571" y="233" textLength="317" lengthAdjust="spacingAndGlyphs">Peer group composite</text>
<text class="f" x="-0.3" y="985.0" textLength="158.6" lengthAdjust="spacingAndGlyphs">Source: FE. As at</text>
<text class="f" x="163.9" y="985.0" textLength="130.1" lengthAdjust="spacingAndGlyphs">31 December</text>
<text class="f" x="299.6" y="985.0" textLength="100.0" lengthAdjust="spacingAndGlyphs">2017. Past</text>
<text class="f" x="405.2" y="985.0" textLength="146.6" lengthAdjust="spacingAndGlyphs">performance is</text>
<text class="f" x="557.4" y="985.0" textLength="116.1" lengthAdjust="spacingAndGlyphs">no indicator</text>
<text class="f" x="679.1" y="985.0" textLength="85.5" lengthAdjust="spacingAndGlyphs">of future</text>
<text class="f" x="770.2" y="985.0" textLength="131.8" lengthAdjust="spacingAndGlyphs">performance.</text>
<text class="f" x="907.6" y="985.0" textLength="127.5" lengthAdjust="spacingAndGlyphs">The manager</text>
<text class="f" x="1040.7" y="985.0" textLength="117.6" lengthAdjust="spacingAndGlyphs">track record</text>
<text class="f" x="1163.9" y="985.0" textLength="105.1" lengthAdjust="spacingAndGlyphs">is an equal</text>
<text class="f" x="1274.6" y="985.0" textLength="88.8" lengthAdjust="spacingAndGlyphs">weighted</text>
<text class="f" x="1369.0" y="985.0" textLength="79.3" lengthAdjust="spacingAndGlyphs">blended</text>
<text class="f" x="1453.9" y="985.0" textLength="83.5" lengthAdjust="spacingAndGlyphs">portfolio</text>
<text class="f" x="1543.0" y="985.0" textLength="110.2" lengthAdjust="spacingAndGlyphs">of all of the</text>
<text class="f" x="-0.5" y="1009.7" textLength="154.1" lengthAdjust="spacingAndGlyphs">funds Moz Afzal</text>
<text class="f" x="159.2" y="1009.7" textLength="130.8" lengthAdjust="spacingAndGlyphs">has managed</text>
<text class="f" x="295.6" y="1009.7" textLength="133.5" lengthAdjust="spacingAndGlyphs">over this time</text>
<text class="f" x="434.7" y="1009.7" textLength="110.4" lengthAdjust="spacingAndGlyphs">period. The</text>
<text class="f" x="550.7" y="1009.7" textLength="107.4" lengthAdjust="spacingAndGlyphs">peer group</text>
<text class="f" x="663.7" y="1009.7" textLength="100.9" lengthAdjust="spacingAndGlyphs">composite</text>
<text class="f" x="770.2" y="1009.7" textLength="104.4" lengthAdjust="spacingAndGlyphs">is an equal</text>
<text class="f" x="880.2" y="1009.7" textLength="88.9" lengthAdjust="spacingAndGlyphs">weighted</text>
<text class="f" x="974.7" y="1009.7" textLength="102.2" lengthAdjust="spacingAndGlyphs">average of</text>
<text class="f" x="1082.5" y="1009.7" textLength="52.8" lengthAdjust="spacingAndGlyphs">every</text>
<text class="f" x="1140.9" y="1009.7" textLength="100.5" lengthAdjust="spacingAndGlyphs">manager’s</text>
<text class="f" x="1247.0" y="1009.7" textLength="117.1" lengthAdjust="spacingAndGlyphs">track record</text>
<text class="f" x="1369.7" y="1009.7" textLength="109.4" lengthAdjust="spacingAndGlyphs">with a fund</text>
<text class="f" x="1484.7" y="1009.7" textLength="112.1" lengthAdjust="spacingAndGlyphs">in the same</text>
<text class="f" x="1602.4" y="1009.7" textLength="68.4" lengthAdjust="spacingAndGlyphs">sector/</text>
<text class="f" x="-0.5" y="1034.3" textLength="151.4" lengthAdjust="spacingAndGlyphs">asset class over</text>
<text class="f" x="156.5" y="1034.3" textLength="145.2" lengthAdjust="spacingAndGlyphs">that same time</text>
<text class="f" x="307.3" y="1034.3" textLength="70.3" lengthAdjust="spacingAndGlyphs">period.</text>
</svg></body></html>
